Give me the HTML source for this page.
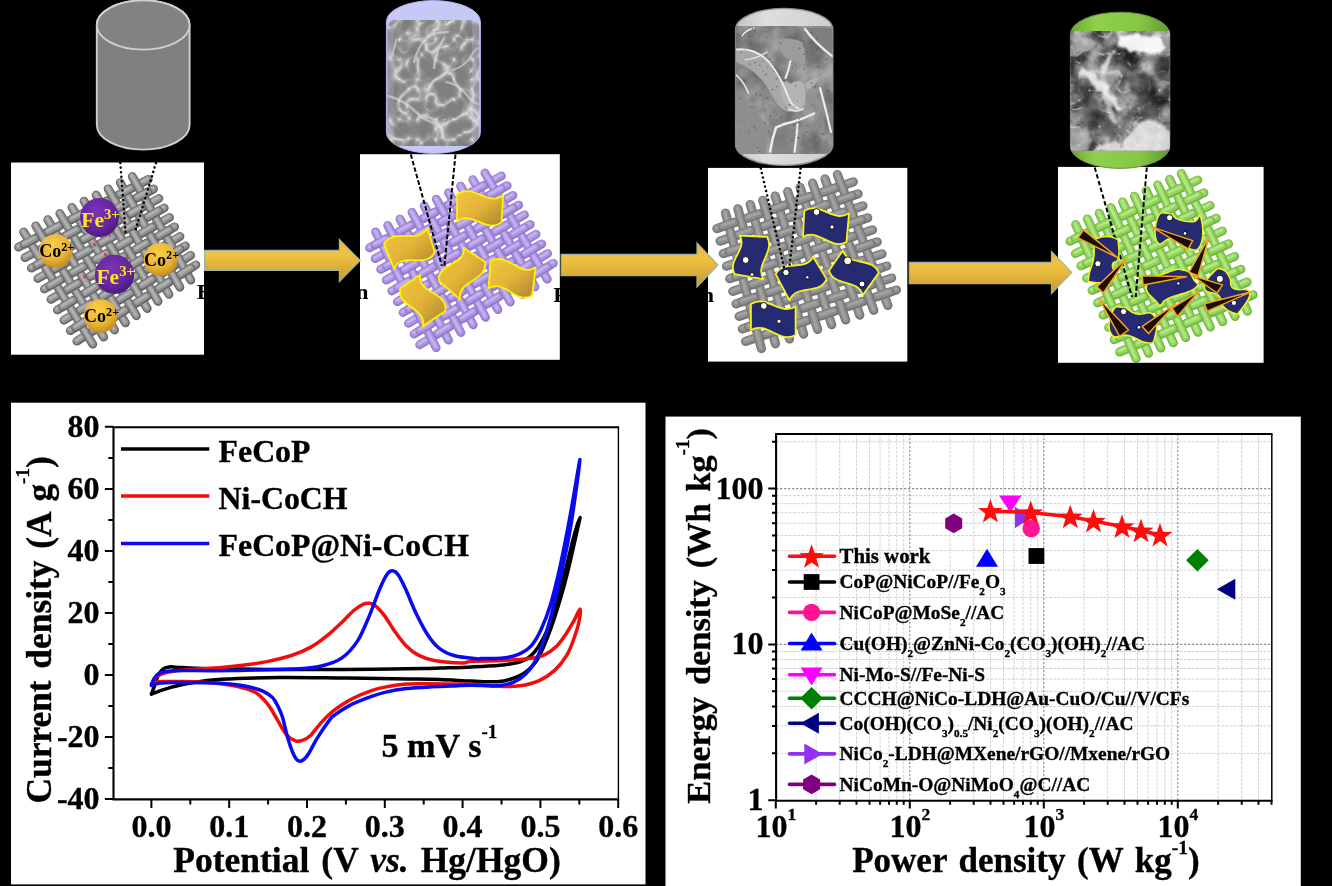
<!DOCTYPE html>
<html lang="en"><head><meta charset="utf-8"><title>FeCoP@Ni-CoCH figure</title>
<style>
html,body{margin:0;padding:0;background:#000;}
body{width:1332px;height:886px;overflow:hidden;}
svg{display:block;}
text{font-family:'Liberation Serif', 'Times New Roman', Times, serif;font-weight:bold;}
#cv text,#ragone text{stroke:#000;stroke-width:0.35px;}
</style></head><body>
<svg width="1332" height="886" viewBox="0 0 1332 886">
<defs>
<linearGradient id="gArrow" x1="0" y1="0" x2="0" y2="1">
 <stop offset="0" stop-color="#e9b93c"/><stop offset="0.35" stop-color="#f0c242"/>
 <stop offset="1" stop-color="#c79a2e"/>
</linearGradient>
<linearGradient id="gFlag" x1="0" y1="0" x2="1" y2="1">
 <stop offset="0" stop-color="#f3c63f"/><stop offset="0.5" stop-color="#e2b338"/>
 <stop offset="1" stop-color="#a8832c"/>
</linearGradient>
<radialGradient id="gFe" cx="0.42" cy="0.35" r="0.75">
 <stop offset="0" stop-color="#7a35b8"/><stop offset="0.6" stop-color="#63259f"/>
 <stop offset="1" stop-color="#3f1670"/>
</radialGradient>
<radialGradient id="gCo" cx="0.42" cy="0.32" r="0.78">
 <stop offset="0" stop-color="#f7cf4a"/><stop offset="0.55" stop-color="#eab534"/>
 <stop offset="1" stop-color="#b07f1c"/>
</radialGradient>
<linearGradient id="gGreenCap" x1="0" y1="0" x2="1" y2="0">
 <stop offset="0" stop-color="#6aa535"/><stop offset="0.25" stop-color="#8fd04c"/>
 <stop offset="0.7" stop-color="#86c645"/><stop offset="1" stop-color="#5f9a2e"/>
</linearGradient>
<linearGradient id="gGrayCap" x1="0" y1="0" x2="1" y2="0">
 <stop offset="0" stop-color="#c4c4c4"/><stop offset="0.3" stop-color="#dedede"/>
 <stop offset="1" stop-color="#cfcfcf"/>
</linearGradient>
<filter id="blur07" x="-5%" y="-5%" width="110%" height="110%"><feGaussianBlur stdDeviation="0.7"/></filter>
<filter id="blur04" x="-5%" y="-5%" width="110%" height="110%"><feGaussianBlur stdDeviation="0.45"/></filter>


<filter id="sem2" x="0" y="0" width="100%" height="100%" color-interpolation-filters="sRGB">
 <feTurbulence type="turbulence" baseFrequency="0.055 0.05" numOctaves="2" seed="21" result="t"/>
 <feColorMatrix in="t" type="matrix" values="-2.2 0 0 0 1  -2.2 0 0 0 1  -2.2 0 0 0 1  0 0 0 0 1" result="g0"/>
 <feGaussianBlur in="g0" stdDeviation="0.4" result="g"/>
 <feComponentTransfer in="g"><feFuncR type="table" tableValues="0.50 0.53 0.58 0.70 0.88"/><feFuncG type="table" tableValues="0.50 0.53 0.58 0.70 0.88"/><feFuncB type="table" tableValues="0.50 0.53 0.58 0.70 0.88"/></feComponentTransfer>
</filter>
<filter id="sem3" x="0" y="0" width="100%" height="100%" color-interpolation-filters="sRGB">
 <feTurbulence type="fractalNoise" baseFrequency="0.04 0.035" numOctaves="4" seed="11" result="t"/>
 <feColorMatrix in="t" type="matrix" values="0.9 0 0 0 0.1  0.9 0 0 0 0.1  0.9 0 0 0 0.1  0 0 0 0 1"/>
</filter>
<filter id="sem4" x="0" y="0" width="100%" height="100%" color-interpolation-filters="sRGB">
 <feTurbulence type="fractalNoise" baseFrequency="0.05 0.045" numOctaves="5" seed="31" result="n"/>
 <feColorMatrix in="n" type="matrix" values="1.5 0 0 0 -0.28  1.5 0 0 0 -0.28  1.5 0 0 0 -0.28  0 0 0 0 1" result="c"/>
 <feTurbulence type="turbulence" baseFrequency="0.05 0.055" numOctaves="4" seed="23" result="t"/>
 <feColorMatrix in="t" type="matrix" values="0 0 0 0 0.95  0 0 0 0 0.95  0 0 0 0 0.95  -4.2 0 0 0 0.85" result="w"/>
 <feComposite in="w" in2="c" operator="over"/>
</filter>
<filter id="rag" x="-20%" y="-20%" width="140%" height="140%">
 <feTurbulence type="fractalNoise" baseFrequency="0.09" numOctaves="3" seed="5" result="n"/>
 <feDisplacementMap in="SourceGraphic" in2="n" scale="10" xChannelSelector="R" yChannelSelector="G" result="d"/>
 <feGaussianBlur in="d" stdDeviation="1.1"/>
</filter>
<filter id="blur2" x="-20%" y="-20%" width="140%" height="140%"><feGaussianBlur stdDeviation="2.2"/></filter>
<filter id="blur4" x="-30%" y="-30%" width="160%" height="160%"><feGaussianBlur stdDeviation="4"/></filter>

<clipPath id="cb2"><path d="M386.4 21.6A47 21 0 0 1 480.4 21.6V132.4A47 21 0 0 1 386.4 132.4Z"/></clipPath>
<clipPath id="cs2"><rect x="387.4" y="20" width="91.8" height="126" rx="8" ry="8"/></clipPath>
<clipPath id="cb3"><path d="M735.6 29.4A48.6 21 0 0 1 832.8 29.4V144.4A48.6 21 0 0 1 735.6 144.4Z"/></clipPath>
<clipPath id="cs3"><rect x="734" y="26" width="101" height="128"/></clipPath>
<clipPath id="cb4"><path d="M1070.4 34.2A49.7 22 0 0 1 1169.8 34.2V146.4A49.7 22 0 0 1 1070.4 146.4Z"/></clipPath>
<clipPath id="cs4"><rect x="1068" y="31" width="104" height="119.8"/></clipPath></defs>
<rect x="0" y="0" width="1332" height="886" fill="#000"/>
<rect x="11" y="162.5" width="193" height="192.2" fill="#fff"/>
<rect x="360" y="154.2" width="199.8" height="205.6" fill="#fff"/>
<rect x="708" y="167.9" width="199.3" height="193.7" fill="#fff"/>
<rect x="1058" y="166.9" width="205.6" height="195.9" fill="#fff"/>
<rect x="11" y="402.7" width="634.5" height="481.7" fill="#fff"/>
<rect x="665.5" y="416.6" width="635.3" height="469.4" fill="#fff"/>
<path d="M96.8 25 L96.8 125 A46.4 24.6 0 0 0 189.6 125 L189.6 25 A46.4 24.6 0 0 0 96.8 25Z" fill="#808080" stroke="#d0d0d0" stroke-width="1.9"/>
<ellipse cx="143.2" cy="25" rx="46.4" ry="24.6" fill="#828282" stroke="#d0d0d0" stroke-width="1.9"/>
<path d="M386.4 21.6A47 21 0 0 1 480.4 21.6V132.4A47 21 0 0 1 386.4 132.4Z" fill="#c6c9f6" stroke="#b2b5ee" stroke-width="1"/>
<g clip-path="url(#cb2)"><g clip-path="url(#cs2)"><rect x="385" y="18" width="98" height="130" filter="url(#sem2)"/>
<g fill="none" stroke="#dedede" stroke-linecap="round" filter="url(#blur07)" opacity="0.6">
<path d="M388 96 q16 4 28 16 q10 10 22 12 q6 6 4 14" stroke-width="2.6"/>
<path d="M414 62 q4 -16 14 -26 q10 -4 20 -4" stroke-width="2.4"/>
<path d="M434 68 q2 -18 10 -30" stroke-width="2.6"/>
<path d="M452 70 q10 -2 18 -12 q4 -8 8 -10" stroke-width="2.0"/>
<path d="M420 116 q12 0 18 8" stroke-width="3.0"/>
<path d="M446 82 q12 2 20 12 q6 8 12 10" stroke-width="2.2"/>
<path d="M396 40 q-2 12 -6 20" stroke-width="2.0"/>
<path d="M470 110 q4 10 8 14" stroke-width="3.0"/>
</g>
<rect x="387" y="20" width="7" height="126" fill="#c6c9f6" opacity="0.22"/><rect x="472" y="20" width="8" height="126" fill="#c6c9f6" opacity="0.22"/>
</g></g>
<path d="M735.6 29.4A48.6 21 0 0 1 832.8 29.4V144.4A48.6 21 0 0 1 735.6 144.4Z" fill="url(#gGrayCap)" stroke="#909090" stroke-width="1.4"/>
<g clip-path="url(#cb3)"><g clip-path="url(#cs3)"><rect x="734" y="24" width="100" height="132" fill="#858585"/>
<rect x="734" y="24" width="100" height="132" filter="url(#sem3)" opacity="0.5"/>
<g filter="url(#blur07)">
<path d="M736 50 q18 -1 32 12 q14 18 22 40 q8 8 -1 10 q-10 -2 -19 -20 q-12 -22 -34 -30z" fill="#a8a8a8"/>
<path d="M780 84 q6 -6 10 0 q10 -6 14 0 q4 14 -2 26 q-8 4 -14 -2 q-8 -10 -8 -24z" fill="#b4b4b4"/>
<path d="M805 84 q8 -8 14 -6 q-4 8 -12 12z" fill="#b0b0b0"/>
<path d="M776 40 q14 -4 26 2 q6 14 2 24 q-10 -6 -18 -8 q-8 -8 -10 -18z" fill="#9c9c9c"/>
<path d="M806 28 q10 14 26 27 v-27z" fill="#7e7e7e"/>
<path d="M736 96 q20 10 30 30 v28 h-30z" fill="#8e8e8e"/>
<path d="M776 130 q10 -4 20 0 v24 h-24z" fill="#7c7c7c" opacity="0.7"/>
</g>
<g fill="none" stroke="#ececec" stroke-linecap="round" filter="url(#blur07)">
<path d="M736.5 49.5 q18 -2 32 12 q12 14 20 36 q3 8 10 11" stroke-width="1.9"/>
<path d="M790.5 61 q-2 10 -5 17" stroke-width="2.0"/>
<path d="M805 29 q10 14 27 27" stroke-width="2.2"/>
<path d="M814 113.5 q-10 5 -20 8 q-10 2 -18 6 q-4 12 -6 24" stroke-width="2.4"/>
<path d="M797.5 124 q-1 14 -3 28" stroke-width="2.2"/>
<path d="M820 88 q5 18 11 44" stroke-width="2.2"/>
<path d="M736.5 75 q8 8 12 18" stroke-width="1.6"/>
<path d="M803 109 q-8 4 -14 0" stroke-width="1.6"/>
<path d="M742 36 q4 -6 12 -8" stroke-width="1.3"/>
<path d="M745 60 q14 -2 22 -8" stroke-width="1.2"/>
</g>
<g fill="#474747" opacity="0.75">
<circle cx="759.9" cy="95.5" r="0.5"/>
<circle cx="793.6" cy="105.6" r="0.4"/>
<circle cx="739.2" cy="131.8" r="0.5"/>
<circle cx="759.6" cy="151.5" r="0.6"/>
<circle cx="815" cy="87.1" r="0.7"/>
<circle cx="751.9" cy="106.7" r="0.8"/>
<circle cx="786.1" cy="119.9" r="0.7"/>
<circle cx="743.9" cy="122" r="0.6"/>
<circle cx="765.7" cy="31.8" r="0.8"/>
<circle cx="781.5" cy="117.1" r="0.8"/>
<circle cx="803.7" cy="142.2" r="0.5"/>
<circle cx="811.7" cy="83.1" r="0.8"/>
<circle cx="818.9" cy="40.1" r="0.4"/>
<circle cx="758" cy="147.7" r="0.6"/>
<circle cx="795.7" cy="65.3" r="0.6"/>
<circle cx="773.5" cy="71.5" r="0.6"/>
<circle cx="791.8" cy="140.1" r="0.7"/>
<circle cx="823.5" cy="134.2" r="0.8"/>
<circle cx="799.8" cy="48.2" r="0.8"/>
<circle cx="826.7" cy="140.2" r="0.6"/>
<circle cx="803.7" cy="54.2" r="0.8"/>
<circle cx="790.8" cy="63.3" r="0.4"/>
<circle cx="816.6" cy="150.7" r="0.4"/>
<circle cx="811.7" cy="78.9" r="0.4"/>
<circle cx="765" cy="123.3" r="0.8"/>
<circle cx="742.1" cy="104.2" r="0.4"/>
<circle cx="804.1" cy="69" r="0.8"/>
<circle cx="828.2" cy="90.7" r="0.8"/>
<circle cx="766.5" cy="37.5" r="0.6"/>
<circle cx="740.9" cy="52.5" r="0.6"/>
<circle cx="794.2" cy="47.4" r="0.4"/>
<circle cx="817.8" cy="66.9" r="0.8"/>
<circle cx="820.5" cy="74.8" r="0.6"/>
<circle cx="785.8" cy="107.8" r="0.6"/>
<circle cx="789.5" cy="104.9" r="0.8"/>
<circle cx="784.6" cy="81.5" r="0.7"/>
<circle cx="759.9" cy="65.3" r="0.8"/>
<circle cx="785.9" cy="96" r="0.4"/>
<circle cx="776.2" cy="99.9" r="0.4"/>
<circle cx="794.7" cy="106.4" r="0.4"/>
<circle cx="795.7" cy="85.8" r="0.7"/>
<circle cx="770.4" cy="115.7" r="0.7"/>
<circle cx="740" cy="35.5" r="0.7"/>
<circle cx="826.6" cy="59.1" r="0.6"/>
<circle cx="792.5" cy="67.7" r="0.5"/>
<circle cx="766.8" cy="73.8" r="0.6"/>
<circle cx="765.6" cy="74.8" r="0.7"/>
<circle cx="740.5" cy="98.6" r="0.7"/>
<circle cx="766.5" cy="55.6" r="0.8"/>
<circle cx="760" cy="51.2" r="0.6"/>
<circle cx="802.2" cy="40.6" r="0.5"/>
<circle cx="768.7" cy="131.4" r="0.6"/>
<circle cx="816.7" cy="49" r="0.5"/>
<circle cx="797.8" cy="137.7" r="0.6"/>
<circle cx="758.7" cy="43" r="0.6"/>
<circle cx="755.6" cy="128" r="0.8"/>
<circle cx="754.9" cy="62.5" r="0.8"/>
<circle cx="797.1" cy="128" r="0.5"/>
<circle cx="749.9" cy="64.2" r="0.7"/>
<circle cx="762.9" cy="70.9" r="0.6"/>
<circle cx="776.6" cy="78.8" r="0.8"/>
<circle cx="752.4" cy="28.6" r="0.8"/>
<circle cx="819" cy="150.4" r="0.6"/>
<circle cx="825.4" cy="143" r="0.5"/>
<circle cx="806.6" cy="131.8" r="0.7"/>
<circle cx="785.7" cy="63.8" r="0.5"/>
<circle cx="758.9" cy="36.4" r="0.6"/>
<circle cx="764.4" cy="128.5" r="0.4"/>
<circle cx="821.1" cy="114" r="0.8"/>
<circle cx="820.5" cy="139.6" r="0.6"/>
<circle cx="739.2" cy="120.4" r="0.4"/>
<circle cx="765.6" cy="110.2" r="0.6"/>
<circle cx="776.1" cy="144.4" r="0.7"/>
<circle cx="769.4" cy="59.3" r="0.8"/>
<circle cx="781.9" cy="125" r="0.5"/>
<circle cx="756.2" cy="94.3" r="0.8"/>
<circle cx="753.8" cy="126.2" r="0.8"/>
<circle cx="812.2" cy="130.1" r="0.4"/>
<circle cx="795.8" cy="135" r="0.4"/>
<circle cx="763" cy="61.3" r="0.6"/>
<circle cx="776.9" cy="86.6" r="0.7"/>
<circle cx="738.2" cy="34.8" r="0.4"/>
<circle cx="749.5" cy="36.5" r="0.8"/>
<circle cx="816.6" cy="38.7" r="0.6"/>
<circle cx="767.1" cy="67" r="0.5"/>
<circle cx="797.5" cy="100.7" r="0.5"/>
<circle cx="755.6" cy="68.8" r="0.4"/>
<circle cx="789.1" cy="116.8" r="0.5"/>
<circle cx="745.4" cy="50.1" r="0.5"/>
<circle cx="793.6" cy="125" r="0.5"/>
<circle cx="811.7" cy="105.2" r="0.6"/>
<circle cx="772.3" cy="89.5" r="0.7"/>
<circle cx="776.7" cy="114.1" r="0.6"/>
<circle cx="760.5" cy="94.4" r="0.7"/>
<circle cx="744.6" cy="80.7" r="0.6"/>
<circle cx="818.9" cy="144.1" r="0.5"/>
<circle cx="820.6" cy="126.1" r="0.5"/>
<circle cx="780.7" cy="43.3" r="0.8"/>
<circle cx="798.9" cy="138" r="0.7"/>
<circle cx="799.4" cy="119" r="0.6"/>
<circle cx="747.5" cy="100.9" r="0.4"/>
<circle cx="751.2" cy="124" r="0.4"/>
<circle cx="746.4" cy="40.3" r="0.8"/>
<circle cx="754.5" cy="30.9" r="0.8"/>
<circle cx="749.2" cy="132.6" r="0.7"/>
<circle cx="814.9" cy="146.1" r="0.6"/>
<circle cx="811.5" cy="32.5" r="0.7"/>
<circle cx="785" cy="116.7" r="0.4"/>
<circle cx="806.9" cy="143.9" r="0.4"/>
<circle cx="767.8" cy="97.9" r="0.8"/>
</g></g></g>
<path d="M1070.4 34.2A49.7 22 0 0 1 1169.8 34.2V146.4A49.7 22 0 0 1 1070.4 146.4Z" fill="url(#gGreenCap)" stroke="#6c8c50" stroke-width="1"/>
<g clip-path="url(#cb4)"><g clip-path="url(#cs4)"><rect x="1068" y="29" width="104" height="124" fill="#7a7a7a"/>
<rect x="1068" y="29" width="104" height="124" filter="url(#sem4)" opacity="0.75"/>
<g fill="#242424" filter="url(#blur2)" opacity="0.5"><ellipse cx="1162" cy="68" rx="8" ry="12"/><ellipse cx="1142" cy="84" rx="14" ry="12"/><ellipse cx="1152" cy="108" rx="12" ry="12"/><ellipse cx="1092" cy="112" rx="10" ry="16"/><ellipse cx="1078" cy="88" rx="6" ry="9"/><ellipse cx="1110" cy="128" rx="8" ry="10"/></g>
<g filter="url(#rag)">
<path d="M1118 36 q22 -4 42 2 q6 10 -2 15 q-20 0 -40 -8z" fill="#fff" opacity="0.92"/>
<path d="M1079 66 q12 2 22 14 q14 16 23 30 q-6 3 -12 -6 q-14 -18 -33 -32z" fill="#f4f4f4" opacity="0.85"/>
<path d="M1114 48 q-2 14 -12 28 q-4 -2 -2 -8 q6 -10 14 -20z" fill="#eee" opacity="0.8"/>
<path d="M1118 153 q8 -20 24 -32 q10 -6 16 2 q8 6 14 8 v22z" fill="#f4f4f4" opacity="0.8"/>
<path d="M1092 153 q10 -12 28 -10 v10z" fill="#f0f0f0" opacity="0.8"/>
<path d="M1070 124 q10 6 18 4 q4 10 -2 26 h-16z" fill="#d2d2d2" opacity="0.55"/>
<path d="M1070 36 q14 0 30 6 q-10 8 -30 14z" fill="#d2d2d2" opacity="0.5"/>
<path d="M1106 96 q8 10 10 26 q-4 2 -6 -4 q-4 -12 -8 -20z" fill="#e6e6e6" opacity="0.7"/>
</g>
</g></g>
<text transform="translate(196.8 299) scale(1.11 1)" font-size="20.7" fill="#000">Electrodeposition</text>
<text transform="translate(553.3 301.7) scale(1.11 1)" font-size="20.7" fill="#000">Phosphorization</text>
<g stroke-linecap="round" fill="none" filter="url(#blur04)"><path d="M18.5 247.2L148.3 179.5" stroke="#686868" stroke-width="8.8"/><path d="M18.2 246.7L148 179" stroke="#939393" stroke-width="6.3"/><path d="M17.9 246.2L147.7 178.5" stroke="#b0b0b0" stroke-width="2.8"/><path d="M25 257.7L153.6 189" stroke="#686868" stroke-width="8.8"/><path d="M24.7 257.2L153.3 188.5" stroke="#939393" stroke-width="6.3"/><path d="M24.4 256.7L153 188" stroke="#b0b0b0" stroke-width="2.8"/><path d="M31.4 268.1L158.9 198.5" stroke="#686868" stroke-width="8.8"/><path d="M31.1 267.6L158.6 198" stroke="#939393" stroke-width="6.3"/><path d="M30.8 267.1L158.3 197.5" stroke="#b0b0b0" stroke-width="2.8"/><path d="M37.9 278.5L164.2 208" stroke="#686868" stroke-width="8.8"/><path d="M37.6 278L163.9 207.5" stroke="#939393" stroke-width="6.3"/><path d="M37.3 277.5L163.6 207" stroke="#b0b0b0" stroke-width="2.8"/><path d="M44.4 289L169.5 217.5" stroke="#686868" stroke-width="8.8"/><path d="M44.1 288.5L169.2 217" stroke="#939393" stroke-width="6.3"/><path d="M43.8 288L168.9 216.5" stroke="#b0b0b0" stroke-width="2.8"/><path d="M50.9 299.4L174.7 226.9" stroke="#686868" stroke-width="8.8"/><path d="M50.6 298.9L174.4 226.4" stroke="#939393" stroke-width="6.3"/><path d="M50.3 298.4L174.1 225.9" stroke="#b0b0b0" stroke-width="2.8"/><path d="M57.4 309.9L180 236.4" stroke="#686868" stroke-width="8.8"/><path d="M57.1 309.4L179.7 235.9" stroke="#939393" stroke-width="6.3"/><path d="M56.8 308.9L179.4 235.4" stroke="#b0b0b0" stroke-width="2.8"/><path d="M63.9 320.3L185.3 245.9" stroke="#686868" stroke-width="8.8"/><path d="M63.6 319.8L185 245.4" stroke="#939393" stroke-width="6.3"/><path d="M63.3 319.3L184.7 244.9" stroke="#b0b0b0" stroke-width="2.8"/><path d="M70.3 330.7L190.6 255.4" stroke="#686868" stroke-width="8.8"/><path d="M70 330.2L190.3 254.9" stroke="#939393" stroke-width="6.3"/><path d="M69.7 329.7L190 254.4" stroke="#b0b0b0" stroke-width="2.8"/><path d="M76.8 341.2L195.9 264.9" stroke="#686868" stroke-width="8.8"/><path d="M76.5 340.7L195.6 264.4" stroke="#939393" stroke-width="6.3"/><path d="M76.2 340.2L195.3 263.9" stroke="#b0b0b0" stroke-width="2.8"/><path d="M23.6 231.9L92.8 344.2" stroke="#686868" stroke-width="8.8"/><path d="M23.3 231.4L92.5 343.7" stroke="#939393" stroke-width="6.3"/><path d="M23 230.9L92.2 343.2" stroke="#b0b0b0" stroke-width="2.8"/><path d="M35.7 225.8L103.7 337.1" stroke="#686868" stroke-width="8.8"/><path d="M35.4 225.3L103.4 336.6" stroke="#939393" stroke-width="6.3"/><path d="M35.1 224.8L103.1 336.1" stroke="#b0b0b0" stroke-width="2.8"/><path d="M47.8 219.6L114.6 330" stroke="#686868" stroke-width="8.8"/><path d="M47.5 219.1L114.3 329.5" stroke="#939393" stroke-width="6.3"/><path d="M47.2 218.6L114 329" stroke="#b0b0b0" stroke-width="2.8"/><path d="M59.8 213.4L125.5 322.9" stroke="#686868" stroke-width="8.8"/><path d="M59.5 212.9L125.2 322.4" stroke="#939393" stroke-width="6.3"/><path d="M59.2 212.4L124.9 321.9" stroke="#b0b0b0" stroke-width="2.8"/><path d="M71.9 207.3L136.4 315.8" stroke="#686868" stroke-width="8.8"/><path d="M71.6 206.8L136.1 315.3" stroke="#939393" stroke-width="6.3"/><path d="M71.3 206.3L135.8 314.8" stroke="#b0b0b0" stroke-width="2.8"/><path d="M84 201.1L147.2 308.6" stroke="#686868" stroke-width="8.8"/><path d="M83.7 200.6L146.9 308.1" stroke="#939393" stroke-width="6.3"/><path d="M83.4 200.1L146.6 307.6" stroke="#b0b0b0" stroke-width="2.8"/><path d="M96.1 195L158.1 301.5" stroke="#686868" stroke-width="8.8"/><path d="M95.8 194.5L157.8 301" stroke="#939393" stroke-width="6.3"/><path d="M95.5 194L157.5 300.5" stroke="#b0b0b0" stroke-width="2.8"/><path d="M108.1 188.8L169 294.4" stroke="#686868" stroke-width="8.8"/><path d="M107.8 188.3L168.7 293.9" stroke="#939393" stroke-width="6.3"/><path d="M107.5 187.8L168.4 293.4" stroke="#b0b0b0" stroke-width="2.8"/><path d="M120.2 182.6L179.9 287.3" stroke="#686868" stroke-width="8.8"/><path d="M119.9 182.1L179.6 286.8" stroke="#939393" stroke-width="6.3"/><path d="M119.6 181.6L179.3 286.3" stroke="#b0b0b0" stroke-width="2.8"/><path d="M132.3 176.5L190.8 280.2" stroke="#686868" stroke-width="8.8"/><path d="M132 176L190.5 279.7" stroke="#939393" stroke-width="6.3"/><path d="M131.7 175.5L190.2 279.2" stroke="#b0b0b0" stroke-width="2.8"/><path d="M24.1 244.3L35 238.6" stroke="#686868" stroke-width="8.8"/><path d="M23.8 243.8L34.7 238.1" stroke="#939393" stroke-width="6.3"/><path d="M23.5 243.3L34.4 237.6" stroke="#b0b0b0" stroke-width="2.8"/><path d="M48 231.8L58.9 226.1" stroke="#686868" stroke-width="8.8"/><path d="M47.7 231.3L58.6 225.6" stroke="#939393" stroke-width="6.3"/><path d="M47.4 230.8L58.3 225.1" stroke="#b0b0b0" stroke-width="2.8"/><path d="M71.9 219.3L82.8 213.7" stroke="#686868" stroke-width="8.8"/><path d="M71.6 218.8L82.5 213.2" stroke="#939393" stroke-width="6.3"/><path d="M71.3 218.3L82.2 212.7" stroke="#b0b0b0" stroke-width="2.8"/><path d="M95.9 206.9L106.8 201.2" stroke="#686868" stroke-width="8.8"/><path d="M95.6 206.4L106.5 200.7" stroke="#939393" stroke-width="6.3"/><path d="M95.3 205.9L106.2 200.2" stroke="#b0b0b0" stroke-width="2.8"/><path d="M119.8 194.4L130.7 188.7" stroke="#686868" stroke-width="8.8"/><path d="M119.5 193.9L130.4 188.2" stroke="#939393" stroke-width="6.3"/><path d="M119.2 193.4L130.1 187.7" stroke="#b0b0b0" stroke-width="2.8"/><path d="M42.4 248.4L53.2 242.6" stroke="#686868" stroke-width="8.8"/><path d="M42.1 247.9L52.9 242.1" stroke="#939393" stroke-width="6.3"/><path d="M41.8 247.4L52.6 241.6" stroke="#b0b0b0" stroke-width="2.8"/><path d="M66.1 235.7L76.9 230" stroke="#686868" stroke-width="8.8"/><path d="M65.8 235.2L76.6 229.5" stroke="#939393" stroke-width="6.3"/><path d="M65.5 234.7L76.3 229" stroke="#b0b0b0" stroke-width="2.8"/><path d="M89.8 223.1L100.6 217.3" stroke="#686868" stroke-width="8.8"/><path d="M89.5 222.6L100.3 216.8" stroke="#939393" stroke-width="6.3"/><path d="M89.2 222.1L100 216.3" stroke="#b0b0b0" stroke-width="2.8"/><path d="M113.5 210.4L124.3 204.6" stroke="#686868" stroke-width="8.8"/><path d="M113.2 209.9L124 204.1" stroke="#939393" stroke-width="6.3"/><path d="M112.9 209.4L123.7 203.6" stroke="#b0b0b0" stroke-width="2.8"/><path d="M137.2 197.7L148 192" stroke="#686868" stroke-width="8.8"/><path d="M136.9 197.2L147.7 191.5" stroke="#939393" stroke-width="6.3"/><path d="M136.6 196.7L147.4 191" stroke="#b0b0b0" stroke-width="2.8"/><path d="M36.9 265.1L47.6 259.3" stroke="#686868" stroke-width="8.8"/><path d="M36.6 264.6L47.3 258.8" stroke="#939393" stroke-width="6.3"/><path d="M36.3 264.1L47 258.3" stroke="#b0b0b0" stroke-width="2.8"/><path d="M60.4 252.3L71.1 246.4" stroke="#686868" stroke-width="8.8"/><path d="M60.1 251.8L70.8 245.9" stroke="#939393" stroke-width="6.3"/><path d="M59.8 251.3L70.5 245.4" stroke="#b0b0b0" stroke-width="2.8"/><path d="M83.9 239.4L94.6 233.6" stroke="#686868" stroke-width="8.8"/><path d="M83.6 238.9L94.3 233.1" stroke="#939393" stroke-width="6.3"/><path d="M83.3 238.4L94 232.6" stroke="#b0b0b0" stroke-width="2.8"/><path d="M107.4 226.6L118.1 220.7" stroke="#686868" stroke-width="8.8"/><path d="M107.1 226.1L117.8 220.2" stroke="#939393" stroke-width="6.3"/><path d="M106.8 225.6L117.5 219.7" stroke="#b0b0b0" stroke-width="2.8"/><path d="M130.9 213.8L141.6 207.9" stroke="#686868" stroke-width="8.8"/><path d="M130.6 213.3L141.3 207.4" stroke="#939393" stroke-width="6.3"/><path d="M130.3 212.8L141 206.9" stroke="#b0b0b0" stroke-width="2.8"/><path d="M55 269L65.6 263.1" stroke="#686868" stroke-width="8.8"/><path d="M54.7 268.5L65.3 262.6" stroke="#939393" stroke-width="6.3"/><path d="M54.4 268L65 262.1" stroke="#b0b0b0" stroke-width="2.8"/><path d="M78.3 256L88.9 250.1" stroke="#686868" stroke-width="8.8"/><path d="M78 255.5L88.6 249.6" stroke="#939393" stroke-width="6.3"/><path d="M77.7 255L88.3 249.1" stroke="#b0b0b0" stroke-width="2.8"/><path d="M101.6 243L112.2 237" stroke="#686868" stroke-width="8.8"/><path d="M101.3 242.5L111.9 236.5" stroke="#939393" stroke-width="6.3"/><path d="M101 242L111.6 236" stroke="#b0b0b0" stroke-width="2.8"/><path d="M124.8 230L135.4 224" stroke="#686868" stroke-width="8.8"/><path d="M124.5 229.5L135.1 223.5" stroke="#939393" stroke-width="6.3"/><path d="M124.2 229L134.8 223" stroke="#b0b0b0" stroke-width="2.8"/><path d="M148.1 216.9L158.7 211" stroke="#686868" stroke-width="8.8"/><path d="M147.8 216.4L158.4 210.5" stroke="#939393" stroke-width="6.3"/><path d="M147.5 215.9L158.1 210" stroke="#b0b0b0" stroke-width="2.8"/><path d="M49.8 285.9L60.3 279.9" stroke="#686868" stroke-width="8.8"/><path d="M49.5 285.4L60 279.4" stroke="#939393" stroke-width="6.3"/><path d="M49.2 284.9L59.7 278.9" stroke="#b0b0b0" stroke-width="2.8"/><path d="M72.8 272.7L83.4 266.7" stroke="#686868" stroke-width="8.8"/><path d="M72.5 272.2L83.1 266.2" stroke="#939393" stroke-width="6.3"/><path d="M72.2 271.7L82.8 265.7" stroke="#b0b0b0" stroke-width="2.8"/><path d="M95.9 259.5L106.4 253.5" stroke="#686868" stroke-width="8.8"/><path d="M95.6 259L106.1 253" stroke="#939393" stroke-width="6.3"/><path d="M95.3 258.5L105.8 252.5" stroke="#b0b0b0" stroke-width="2.8"/><path d="M119 246.3L129.5 240.3" stroke="#686868" stroke-width="8.8"/><path d="M118.7 245.8L129.2 239.8" stroke="#939393" stroke-width="6.3"/><path d="M118.4 245.3L128.9 239.3" stroke="#b0b0b0" stroke-width="2.8"/><path d="M142 233.1L152.5 227.1" stroke="#686868" stroke-width="8.8"/><path d="M141.7 232.6L152.2 226.6" stroke="#939393" stroke-width="6.3"/><path d="M141.4 232.1L151.9 226.1" stroke="#b0b0b0" stroke-width="2.8"/><path d="M67.6 289.6L78 283.5" stroke="#686868" stroke-width="8.8"/><path d="M67.3 289.1L77.7 283" stroke="#939393" stroke-width="6.3"/><path d="M67 288.6L77.4 282.5" stroke="#b0b0b0" stroke-width="2.8"/><path d="M90.5 276.3L100.9 270.2" stroke="#686868" stroke-width="8.8"/><path d="M90.2 275.8L100.6 269.7" stroke="#939393" stroke-width="6.3"/><path d="M89.9 275.3L100.3 269.2" stroke="#b0b0b0" stroke-width="2.8"/><path d="M113.3 262.9L123.7 256.8" stroke="#686868" stroke-width="8.8"/><path d="M113 262.4L123.4 256.3" stroke="#939393" stroke-width="6.3"/><path d="M112.7 261.9L123.1 255.8" stroke="#b0b0b0" stroke-width="2.8"/><path d="M136.2 249.5L146.6 243.4" stroke="#686868" stroke-width="8.8"/><path d="M135.9 249L146.3 242.9" stroke="#939393" stroke-width="6.3"/><path d="M135.6 248.5L146 242.4" stroke="#b0b0b0" stroke-width="2.8"/><path d="M159 236.1L169.4 230.1" stroke="#686868" stroke-width="8.8"/><path d="M158.7 235.6L169.1 229.6" stroke="#939393" stroke-width="6.3"/><path d="M158.4 235.1L168.8 229.1" stroke="#b0b0b0" stroke-width="2.8"/><path d="M62.6 306.7L73 300.5" stroke="#686868" stroke-width="8.8"/><path d="M62.3 306.2L72.7 300" stroke="#939393" stroke-width="6.3"/><path d="M62 305.7L72.4 299.5" stroke="#b0b0b0" stroke-width="2.8"/><path d="M85.3 293.2L95.6 287" stroke="#686868" stroke-width="8.8"/><path d="M85 292.7L95.3 286.5" stroke="#939393" stroke-width="6.3"/><path d="M84.7 292.2L95 286" stroke="#b0b0b0" stroke-width="2.8"/><path d="M107.9 279.6L118.2 273.4" stroke="#686868" stroke-width="8.8"/><path d="M107.6 279.1L117.9 272.9" stroke="#939393" stroke-width="6.3"/><path d="M107.3 278.6L117.6 272.4" stroke="#b0b0b0" stroke-width="2.8"/><path d="M130.5 266.1L140.8 259.9" stroke="#686868" stroke-width="8.8"/><path d="M130.2 265.6L140.5 259.4" stroke="#939393" stroke-width="6.3"/><path d="M129.9 265.1L140.2 258.9" stroke="#b0b0b0" stroke-width="2.8"/><path d="M153.1 252.5L163.5 246.4" stroke="#686868" stroke-width="8.8"/><path d="M152.8 252L163.2 245.9" stroke="#939393" stroke-width="6.3"/><path d="M152.5 251.5L162.9 245.4" stroke="#b0b0b0" stroke-width="2.8"/><path d="M80.3 310.2L90.5 304" stroke="#686868" stroke-width="8.8"/><path d="M80 309.7L90.2 303.5" stroke="#939393" stroke-width="6.3"/><path d="M79.7 309.2L89.9 303" stroke="#b0b0b0" stroke-width="2.8"/><path d="M102.7 296.5L112.9 290.3" stroke="#686868" stroke-width="8.8"/><path d="M102.4 296L112.6 289.8" stroke="#939393" stroke-width="6.3"/><path d="M102.1 295.5L112.3 289.3" stroke="#b0b0b0" stroke-width="2.8"/><path d="M125.1 282.8L135.3 276.5" stroke="#686868" stroke-width="8.8"/><path d="M124.8 282.3L135 276" stroke="#939393" stroke-width="6.3"/><path d="M124.5 281.8L134.7 275.5" stroke="#b0b0b0" stroke-width="2.8"/><path d="M147.5 269.1L157.7 262.8" stroke="#686868" stroke-width="8.8"/><path d="M147.2 268.6L157.4 262.3" stroke="#939393" stroke-width="6.3"/><path d="M146.9 268.1L157.1 261.8" stroke="#b0b0b0" stroke-width="2.8"/><path d="M169.9 255.3L180.1 249.1" stroke="#686868" stroke-width="8.8"/><path d="M169.6 254.8L179.8 248.6" stroke="#939393" stroke-width="6.3"/><path d="M169.3 254.3L179.5 248.1" stroke="#b0b0b0" stroke-width="2.8"/><path d="M75.5 327.5L85.6 321.2" stroke="#686868" stroke-width="8.8"/><path d="M75.2 327L85.3 320.7" stroke="#939393" stroke-width="6.3"/><path d="M74.9 326.5L85 320.2" stroke="#b0b0b0" stroke-width="2.8"/><path d="M97.7 313.6L107.8 307.3" stroke="#686868" stroke-width="8.8"/><path d="M97.4 313.1L107.5 306.8" stroke="#939393" stroke-width="6.3"/><path d="M97.1 312.6L107.2 306.3" stroke="#b0b0b0" stroke-width="2.8"/><path d="M119.9 299.7L130 293.4" stroke="#686868" stroke-width="8.8"/><path d="M119.6 299.2L129.7 292.9" stroke="#939393" stroke-width="6.3"/><path d="M119.3 298.7L129.4 292.4" stroke="#b0b0b0" stroke-width="2.8"/><path d="M142.1 285.8L152.2 279.5" stroke="#686868" stroke-width="8.8"/><path d="M141.8 285.3L151.9 279" stroke="#939393" stroke-width="6.3"/><path d="M141.5 284.8L151.6 278.5" stroke="#b0b0b0" stroke-width="2.8"/><path d="M164.3 271.9L174.4 265.6" stroke="#686868" stroke-width="8.8"/><path d="M164 271.4L174.1 265.1" stroke="#939393" stroke-width="6.3"/><path d="M163.7 270.9L173.8 264.6" stroke="#b0b0b0" stroke-width="2.8"/><path d="M92.9 330.9L102.9 324.4" stroke="#686868" stroke-width="8.8"/><path d="M92.6 330.4L102.6 323.9" stroke="#939393" stroke-width="6.3"/><path d="M92.3 329.9L102.3 323.4" stroke="#b0b0b0" stroke-width="2.8"/><path d="M114.9 316.8L124.9 310.4" stroke="#686868" stroke-width="8.8"/><path d="M114.6 316.3L124.6 309.9" stroke="#939393" stroke-width="6.3"/><path d="M114.3 315.8L124.3 309.4" stroke="#b0b0b0" stroke-width="2.8"/><path d="M136.9 302.7L146.9 296.3" stroke="#686868" stroke-width="8.8"/><path d="M136.6 302.2L146.6 295.8" stroke="#939393" stroke-width="6.3"/><path d="M136.3 301.7L146.3 295.3" stroke="#b0b0b0" stroke-width="2.8"/><path d="M158.8 288.6L168.8 282.2" stroke="#686868" stroke-width="8.8"/><path d="M158.5 288.1L168.5 281.7" stroke="#939393" stroke-width="6.3"/><path d="M158.2 287.6L168.2 281.2" stroke="#b0b0b0" stroke-width="2.8"/><path d="M180.8 274.6L190.8 268.1" stroke="#686868" stroke-width="8.8"/><path d="M180.5 274.1L190.5 267.6" stroke="#939393" stroke-width="6.3"/><path d="M180.2 273.6L190.2 267.1" stroke="#b0b0b0" stroke-width="2.8"/></g>
<g stroke-linecap="round" fill="none" filter="url(#blur04)"><path d="M369.5 247.9L501.4 176" stroke="#9479cf" stroke-width="8.8"/><path d="M369.2 247.4L501.1 175.5" stroke="#ae95e2" stroke-width="6.3"/><path d="M368.9 246.9L500.8 175" stroke="#c3b0ee" stroke-width="2.8"/><path d="M375.1 258.7L507.2 185.7" stroke="#9479cf" stroke-width="8.8"/><path d="M374.8 258.2L506.9 185.2" stroke="#ae95e2" stroke-width="6.3"/><path d="M374.5 257.7L506.6 184.7" stroke="#c3b0ee" stroke-width="2.8"/><path d="M380.7 269.4L513 195.4" stroke="#9479cf" stroke-width="8.8"/><path d="M380.4 268.9L512.7 194.9" stroke="#ae95e2" stroke-width="6.3"/><path d="M380.1 268.4L512.4 194.4" stroke="#c3b0ee" stroke-width="2.8"/><path d="M386.2 280.2L518.7 205.1" stroke="#9479cf" stroke-width="8.8"/><path d="M385.9 279.7L518.4 204.6" stroke="#ae95e2" stroke-width="6.3"/><path d="M385.6 279.2L518.1 204.1" stroke="#c3b0ee" stroke-width="2.8"/><path d="M391.8 291L524.5 214.8" stroke="#9479cf" stroke-width="8.8"/><path d="M391.5 290.5L524.2 214.3" stroke="#ae95e2" stroke-width="6.3"/><path d="M391.2 290L523.9 213.8" stroke="#c3b0ee" stroke-width="2.8"/><path d="M397.4 301.7L530.3 224.5" stroke="#9479cf" stroke-width="8.8"/><path d="M397.1 301.2L530 224" stroke="#ae95e2" stroke-width="6.3"/><path d="M396.8 300.7L529.7 223.5" stroke="#c3b0ee" stroke-width="2.8"/><path d="M403 312.5L536.1 234.2" stroke="#9479cf" stroke-width="8.8"/><path d="M402.7 312L535.8 233.7" stroke="#ae95e2" stroke-width="6.3"/><path d="M402.4 311.5L535.5 233.2" stroke="#c3b0ee" stroke-width="2.8"/><path d="M408.5 323.3L541.8 243.9" stroke="#9479cf" stroke-width="8.8"/><path d="M408.2 322.8L541.5 243.4" stroke="#ae95e2" stroke-width="6.3"/><path d="M407.9 322.3L541.2 242.9" stroke="#c3b0ee" stroke-width="2.8"/><path d="M414.1 334L547.6 253.6" stroke="#9479cf" stroke-width="8.8"/><path d="M413.8 333.5L547.3 253.1" stroke="#ae95e2" stroke-width="6.3"/><path d="M413.5 333L547 252.6" stroke="#c3b0ee" stroke-width="2.8"/><path d="M419.7 344.8L553.4 263.3" stroke="#9479cf" stroke-width="8.8"/><path d="M419.4 344.3L553.1 262.8" stroke="#ae95e2" stroke-width="6.3"/><path d="M419.1 343.8L552.8 262.3" stroke="#c3b0ee" stroke-width="2.8"/><path d="M375.6 232L436.2 347.7" stroke="#9479cf" stroke-width="8.8"/><path d="M375.3 231.5L435.9 347.2" stroke="#ae95e2" stroke-width="6.3"/><path d="M375 231L435.6 346.7" stroke="#c3b0ee" stroke-width="2.8"/><path d="M387.7 225.4L448.5 340.1" stroke="#9479cf" stroke-width="8.8"/><path d="M387.4 224.9L448.2 339.6" stroke="#ae95e2" stroke-width="6.3"/><path d="M387.1 224.4L447.9 339.1" stroke="#c3b0ee" stroke-width="2.8"/><path d="M399.9 218.9L460.9 332.5" stroke="#9479cf" stroke-width="8.8"/><path d="M399.6 218.4L460.6 332" stroke="#ae95e2" stroke-width="6.3"/><path d="M399.3 217.9L460.3 331.5" stroke="#c3b0ee" stroke-width="2.8"/><path d="M412 212.3L473.2 324.9" stroke="#9479cf" stroke-width="8.8"/><path d="M411.7 211.8L472.9 324.4" stroke="#ae95e2" stroke-width="6.3"/><path d="M411.4 211.3L472.6 323.9" stroke="#c3b0ee" stroke-width="2.8"/><path d="M424.2 205.8L485.6 317.3" stroke="#9479cf" stroke-width="8.8"/><path d="M423.9 205.3L485.3 316.8" stroke="#ae95e2" stroke-width="6.3"/><path d="M423.6 204.8L485 316.3" stroke="#c3b0ee" stroke-width="2.8"/><path d="M436.3 199.2L497.9 309.7" stroke="#9479cf" stroke-width="8.8"/><path d="M436 198.7L497.6 309.2" stroke="#ae95e2" stroke-width="6.3"/><path d="M435.7 198.2L497.3 308.7" stroke="#c3b0ee" stroke-width="2.8"/><path d="M448.5 192.7L510.3 302.1" stroke="#9479cf" stroke-width="8.8"/><path d="M448.2 192.2L510 301.6" stroke="#ae95e2" stroke-width="6.3"/><path d="M447.9 191.7L509.7 301.1" stroke="#c3b0ee" stroke-width="2.8"/><path d="M460.6 186.1L522.6 294.5" stroke="#9479cf" stroke-width="8.8"/><path d="M460.3 185.6L522.3 294" stroke="#ae95e2" stroke-width="6.3"/><path d="M460 185.1L522 293.5" stroke="#c3b0ee" stroke-width="2.8"/><path d="M472.8 179.6L535 286.9" stroke="#9479cf" stroke-width="8.8"/><path d="M472.5 179.1L534.7 286.4" stroke="#ae95e2" stroke-width="6.3"/><path d="M472.2 178.6L534.4 285.9" stroke="#c3b0ee" stroke-width="2.8"/><path d="M484.9 173L547.3 279.3" stroke="#9479cf" stroke-width="8.8"/><path d="M484.6 172.5L547 278.8" stroke="#ae95e2" stroke-width="6.3"/><path d="M484.3 172L546.7 278.3" stroke="#c3b0ee" stroke-width="2.8"/><path d="M375.2 244.8L386.3 238.8" stroke="#9479cf" stroke-width="8.8"/><path d="M374.9 244.3L386 238.3" stroke="#ae95e2" stroke-width="6.3"/><path d="M374.6 243.8L385.7 237.8" stroke="#c3b0ee" stroke-width="2.8"/><path d="M399.5 231.6L410.6 225.5" stroke="#9479cf" stroke-width="8.8"/><path d="M399.2 231.1L410.3 225" stroke="#ae95e2" stroke-width="6.3"/><path d="M398.9 230.6L410 224.5" stroke="#c3b0ee" stroke-width="2.8"/><path d="M423.9 218.3L434.9 212.2" stroke="#9479cf" stroke-width="8.8"/><path d="M423.6 217.8L434.6 211.7" stroke="#ae95e2" stroke-width="6.3"/><path d="M423.3 217.3L434.3 211.2" stroke="#c3b0ee" stroke-width="2.8"/><path d="M448.2 205L459.3 199" stroke="#9479cf" stroke-width="8.8"/><path d="M447.9 204.5L459 198.5" stroke="#ae95e2" stroke-width="6.3"/><path d="M447.6 204L458.7 198" stroke="#c3b0ee" stroke-width="2.8"/><path d="M472.5 191.7L483.6 185.7" stroke="#9479cf" stroke-width="8.8"/><path d="M472.2 191.2L483.3 185.2" stroke="#ae95e2" stroke-width="6.3"/><path d="M471.9 190.7L483 184.7" stroke="#c3b0ee" stroke-width="2.8"/><path d="M393 248.8L404.1 242.7" stroke="#9479cf" stroke-width="8.8"/><path d="M392.7 248.3L403.8 242.2" stroke="#ae95e2" stroke-width="6.3"/><path d="M392.4 247.8L403.5 241.7" stroke="#c3b0ee" stroke-width="2.8"/><path d="M417.3 235.3L428.4 229.2" stroke="#9479cf" stroke-width="8.8"/><path d="M417 234.8L428.1 228.7" stroke="#ae95e2" stroke-width="6.3"/><path d="M416.7 234.3L427.8 228.2" stroke="#c3b0ee" stroke-width="2.8"/><path d="M441.7 221.9L452.8 215.7" stroke="#9479cf" stroke-width="8.8"/><path d="M441.4 221.4L452.5 215.2" stroke="#ae95e2" stroke-width="6.3"/><path d="M441.1 220.9L452.2 214.7" stroke="#c3b0ee" stroke-width="2.8"/><path d="M466.1 208.4L477.2 202.3" stroke="#9479cf" stroke-width="8.8"/><path d="M465.8 207.9L476.9 201.8" stroke="#ae95e2" stroke-width="6.3"/><path d="M465.5 207.4L476.6 201.3" stroke="#c3b0ee" stroke-width="2.8"/><path d="M490.4 194.9L501.5 188.8" stroke="#9479cf" stroke-width="8.8"/><path d="M490.1 194.4L501.2 188.3" stroke="#ae95e2" stroke-width="6.3"/><path d="M489.8 193.9L500.9 187.8" stroke="#c3b0ee" stroke-width="2.8"/><path d="M386.4 266.3L397.5 260" stroke="#9479cf" stroke-width="8.8"/><path d="M386.1 265.8L397.2 259.5" stroke="#ae95e2" stroke-width="6.3"/><path d="M385.8 265.3L396.9 259" stroke="#c3b0ee" stroke-width="2.8"/><path d="M410.8 252.6L421.9 246.4" stroke="#9479cf" stroke-width="8.8"/><path d="M410.5 252.1L421.6 245.9" stroke="#ae95e2" stroke-width="6.3"/><path d="M410.2 251.6L421.3 245.4" stroke="#c3b0ee" stroke-width="2.8"/><path d="M435.2 238.9L446.3 232.7" stroke="#9479cf" stroke-width="8.8"/><path d="M434.9 238.4L446 232.2" stroke="#ae95e2" stroke-width="6.3"/><path d="M434.6 237.9L445.7 231.7" stroke="#c3b0ee" stroke-width="2.8"/><path d="M459.6 225.3L470.7 219.1" stroke="#9479cf" stroke-width="8.8"/><path d="M459.3 224.8L470.4 218.6" stroke="#ae95e2" stroke-width="6.3"/><path d="M459 224.3L470.1 218.1" stroke="#c3b0ee" stroke-width="2.8"/><path d="M484 211.6L495.1 205.4" stroke="#9479cf" stroke-width="8.8"/><path d="M483.7 211.1L494.8 204.9" stroke="#ae95e2" stroke-width="6.3"/><path d="M483.4 210.6L494.5 204.4" stroke="#c3b0ee" stroke-width="2.8"/><path d="M404.2 270L415.3 263.7" stroke="#9479cf" stroke-width="8.8"/><path d="M403.9 269.5L415 263.2" stroke="#ae95e2" stroke-width="6.3"/><path d="M403.6 269L414.7 262.7" stroke="#c3b0ee" stroke-width="2.8"/><path d="M428.6 256.2L439.7 249.9" stroke="#9479cf" stroke-width="8.8"/><path d="M428.3 255.7L439.4 249.4" stroke="#ae95e2" stroke-width="6.3"/><path d="M428 255.2L439.1 248.9" stroke="#c3b0ee" stroke-width="2.8"/><path d="M453 242.3L464.2 236" stroke="#9479cf" stroke-width="8.8"/><path d="M452.7 241.8L463.9 235.5" stroke="#ae95e2" stroke-width="6.3"/><path d="M452.4 241.3L463.6 235" stroke="#c3b0ee" stroke-width="2.8"/><path d="M477.5 228.5L488.6 222.2" stroke="#9479cf" stroke-width="8.8"/><path d="M477.2 228L488.3 221.7" stroke="#ae95e2" stroke-width="6.3"/><path d="M476.9 227.5L488 221.2" stroke="#c3b0ee" stroke-width="2.8"/><path d="M501.9 214.6L513 208.3" stroke="#9479cf" stroke-width="8.8"/><path d="M501.6 214.1L512.7 207.8" stroke="#ae95e2" stroke-width="6.3"/><path d="M501.3 213.6L512.4 207.3" stroke="#c3b0ee" stroke-width="2.8"/><path d="M397.5 287.7L408.7 281.3" stroke="#9479cf" stroke-width="8.8"/><path d="M397.2 287.2L408.4 280.8" stroke="#ae95e2" stroke-width="6.3"/><path d="M396.9 286.7L408.1 280.3" stroke="#c3b0ee" stroke-width="2.8"/><path d="M422 273.6L433.1 267.2" stroke="#9479cf" stroke-width="8.8"/><path d="M421.7 273.1L432.8 266.7" stroke="#ae95e2" stroke-width="6.3"/><path d="M421.4 272.6L432.5 266.2" stroke="#c3b0ee" stroke-width="2.8"/><path d="M446.5 259.6L457.6 253.2" stroke="#9479cf" stroke-width="8.8"/><path d="M446.2 259.1L457.3 252.7" stroke="#ae95e2" stroke-width="6.3"/><path d="M445.9 258.6L457 252.2" stroke="#c3b0ee" stroke-width="2.8"/><path d="M470.9 245.5L482.1 239.1" stroke="#9479cf" stroke-width="8.8"/><path d="M470.6 245L481.8 238.6" stroke="#ae95e2" stroke-width="6.3"/><path d="M470.3 244.5L481.5 238.1" stroke="#c3b0ee" stroke-width="2.8"/><path d="M495.4 231.5L506.6 225.1" stroke="#9479cf" stroke-width="8.8"/><path d="M495.1 231L506.3 224.6" stroke="#ae95e2" stroke-width="6.3"/><path d="M494.8 230.5L506 224.1" stroke="#c3b0ee" stroke-width="2.8"/><path d="M415.4 291.3L426.5 284.8" stroke="#9479cf" stroke-width="8.8"/><path d="M415.1 290.8L426.2 284.3" stroke="#ae95e2" stroke-width="6.3"/><path d="M414.8 290.3L425.9 283.8" stroke="#c3b0ee" stroke-width="2.8"/><path d="M439.9 277L451 270.6" stroke="#9479cf" stroke-width="8.8"/><path d="M439.6 276.5L450.7 270.1" stroke="#ae95e2" stroke-width="6.3"/><path d="M439.3 276L450.4 269.6" stroke="#c3b0ee" stroke-width="2.8"/><path d="M464.4 262.8L475.5 256.3" stroke="#9479cf" stroke-width="8.8"/><path d="M464.1 262.3L475.2 255.8" stroke="#ae95e2" stroke-width="6.3"/><path d="M463.8 261.8L474.9 255.3" stroke="#c3b0ee" stroke-width="2.8"/><path d="M488.9 248.6L500.1 242.1" stroke="#9479cf" stroke-width="8.8"/><path d="M488.6 248.1L499.8 241.6" stroke="#ae95e2" stroke-width="6.3"/><path d="M488.3 247.6L499.5 241.1" stroke="#c3b0ee" stroke-width="2.8"/><path d="M513.4 234.3L524.6 227.8" stroke="#9479cf" stroke-width="8.8"/><path d="M513.1 233.8L524.3 227.3" stroke="#ae95e2" stroke-width="6.3"/><path d="M512.8 233.3L524 226.8" stroke="#c3b0ee" stroke-width="2.8"/><path d="M408.7 309.1L419.9 302.6" stroke="#9479cf" stroke-width="8.8"/><path d="M408.4 308.6L419.6 302.1" stroke="#ae95e2" stroke-width="6.3"/><path d="M408.1 308.1L419.3 301.6" stroke="#c3b0ee" stroke-width="2.8"/><path d="M433.2 294.7L444.4 288.1" stroke="#9479cf" stroke-width="8.8"/><path d="M432.9 294.2L444.1 287.6" stroke="#ae95e2" stroke-width="6.3"/><path d="M432.6 293.7L443.8 287.1" stroke="#c3b0ee" stroke-width="2.8"/><path d="M457.8 280.3L469 273.7" stroke="#9479cf" stroke-width="8.8"/><path d="M457.5 279.8L468.7 273.2" stroke="#ae95e2" stroke-width="6.3"/><path d="M457.2 279.3L468.4 272.7" stroke="#c3b0ee" stroke-width="2.8"/><path d="M482.3 265.8L493.5 259.2" stroke="#9479cf" stroke-width="8.8"/><path d="M482 265.3L493.2 258.7" stroke="#ae95e2" stroke-width="6.3"/><path d="M481.7 264.8L492.9 258.2" stroke="#c3b0ee" stroke-width="2.8"/><path d="M506.9 251.4L518.1 244.8" stroke="#9479cf" stroke-width="8.8"/><path d="M506.6 250.9L517.8 244.3" stroke="#ae95e2" stroke-width="6.3"/><path d="M506.3 250.4L517.5 243.8" stroke="#c3b0ee" stroke-width="2.8"/><path d="M426.6 312.5L437.7 305.9" stroke="#9479cf" stroke-width="8.8"/><path d="M426.3 312L437.4 305.4" stroke="#ae95e2" stroke-width="6.3"/><path d="M426 311.5L437.1 304.9" stroke="#c3b0ee" stroke-width="2.8"/><path d="M451.1 297.9L462.3 291.2" stroke="#9479cf" stroke-width="8.8"/><path d="M450.8 297.4L462 290.7" stroke="#ae95e2" stroke-width="6.3"/><path d="M450.5 296.9L461.7 290.2" stroke="#c3b0ee" stroke-width="2.8"/><path d="M475.7 283.3L486.9 276.6" stroke="#9479cf" stroke-width="8.8"/><path d="M475.4 282.8L486.6 276.1" stroke="#ae95e2" stroke-width="6.3"/><path d="M475.1 282.3L486.3 275.6" stroke="#c3b0ee" stroke-width="2.8"/><path d="M500.3 268.6L511.5 262" stroke="#9479cf" stroke-width="8.8"/><path d="M500 268.1L511.2 261.5" stroke="#ae95e2" stroke-width="6.3"/><path d="M499.7 267.6L510.9 261" stroke="#c3b0ee" stroke-width="2.8"/><path d="M524.9 254L536.1 247.3" stroke="#9479cf" stroke-width="8.8"/><path d="M524.6 253.5L535.8 246.8" stroke="#ae95e2" stroke-width="6.3"/><path d="M524.3 253L535.5 246.3" stroke="#c3b0ee" stroke-width="2.8"/><path d="M419.8 330.6L431.1 323.8" stroke="#9479cf" stroke-width="8.8"/><path d="M419.5 330.1L430.8 323.3" stroke="#ae95e2" stroke-width="6.3"/><path d="M419.2 329.6L430.5 322.8" stroke="#c3b0ee" stroke-width="2.8"/><path d="M444.5 315.7L455.7 309" stroke="#9479cf" stroke-width="8.8"/><path d="M444.2 315.2L455.4 308.5" stroke="#ae95e2" stroke-width="6.3"/><path d="M443.9 314.7L455.1 308" stroke="#c3b0ee" stroke-width="2.8"/><path d="M469.1 300.9L480.3 294.2" stroke="#9479cf" stroke-width="8.8"/><path d="M468.8 300.4L480 293.7" stroke="#ae95e2" stroke-width="6.3"/><path d="M468.5 299.9L479.7 293.2" stroke="#c3b0ee" stroke-width="2.8"/><path d="M493.7 286.1L504.9 279.3" stroke="#9479cf" stroke-width="8.8"/><path d="M493.4 285.6L504.6 278.8" stroke="#ae95e2" stroke-width="6.3"/><path d="M493.1 285.1L504.3 278.3" stroke="#c3b0ee" stroke-width="2.8"/><path d="M518.3 271.3L529.6 264.5" stroke="#9479cf" stroke-width="8.8"/><path d="M518 270.8L529.3 264" stroke="#ae95e2" stroke-width="6.3"/><path d="M517.7 270.3L529 263.5" stroke="#c3b0ee" stroke-width="2.8"/><path d="M437.7 333.8L449 326.9" stroke="#9479cf" stroke-width="8.8"/><path d="M437.4 333.3L448.7 326.4" stroke="#ae95e2" stroke-width="6.3"/><path d="M437.1 332.8L448.4 325.9" stroke="#c3b0ee" stroke-width="2.8"/><path d="M462.4 318.7L473.6 311.9" stroke="#9479cf" stroke-width="8.8"/><path d="M462.1 318.2L473.3 311.4" stroke="#ae95e2" stroke-width="6.3"/><path d="M461.8 317.7L473 310.9" stroke="#c3b0ee" stroke-width="2.8"/><path d="M487.1 303.7L498.3 296.9" stroke="#9479cf" stroke-width="8.8"/><path d="M486.8 303.2L498 296.4" stroke="#ae95e2" stroke-width="6.3"/><path d="M486.5 302.7L497.7 295.9" stroke="#c3b0ee" stroke-width="2.8"/><path d="M511.7 288.7L523 281.9" stroke="#9479cf" stroke-width="8.8"/><path d="M511.4 288.2L522.7 281.4" stroke="#ae95e2" stroke-width="6.3"/><path d="M511.1 287.7L522.4 280.9" stroke="#c3b0ee" stroke-width="2.8"/><path d="M536.4 273.7L547.6 266.9" stroke="#9479cf" stroke-width="8.8"/><path d="M536.1 273.2L547.3 266.4" stroke="#ae95e2" stroke-width="6.3"/><path d="M535.8 272.7L547 265.9" stroke="#c3b0ee" stroke-width="2.8"/></g>
<g stroke-linecap="round" fill="none" filter="url(#blur07)"><path d="M716.9 228.6L853.3 181.8" stroke="#767676" stroke-width="9.2"/><path d="M716.6 228.1L853 181.3" stroke="#8f8f8f" stroke-width="6.6"/><path d="M716.3 227.6L852.7 180.8" stroke="#a2a2a2" stroke-width="2.9"/><path d="M720.1 241.1L858.1 193.8" stroke="#767676" stroke-width="9.2"/><path d="M719.8 240.6L857.8 193.3" stroke="#8f8f8f" stroke-width="6.6"/><path d="M719.5 240.1L857.5 192.8" stroke="#a2a2a2" stroke-width="2.9"/><path d="M723.3 253.6L862.9 205.8" stroke="#767676" stroke-width="9.2"/><path d="M723 253.1L862.6 205.3" stroke="#8f8f8f" stroke-width="6.6"/><path d="M722.7 252.6L862.3 204.8" stroke="#a2a2a2" stroke-width="2.9"/><path d="M726.5 266.2L867.7 217.9" stroke="#767676" stroke-width="9.2"/><path d="M726.2 265.7L867.4 217.4" stroke="#8f8f8f" stroke-width="6.6"/><path d="M725.9 265.2L867.1 216.9" stroke="#a2a2a2" stroke-width="2.9"/><path d="M729.7 278.7L872.5 229.9" stroke="#767676" stroke-width="9.2"/><path d="M729.4 278.2L872.2 229.4" stroke="#8f8f8f" stroke-width="6.6"/><path d="M729.1 277.7L871.9 228.9" stroke="#a2a2a2" stroke-width="2.9"/><path d="M732.8 291.3L877.2 241.9" stroke="#767676" stroke-width="9.2"/><path d="M732.5 290.8L876.9 241.4" stroke="#8f8f8f" stroke-width="6.6"/><path d="M732.2 290.3L876.6 240.9" stroke="#a2a2a2" stroke-width="2.9"/><path d="M736 303.8L882 253.9" stroke="#767676" stroke-width="9.2"/><path d="M735.7 303.3L881.7 253.4" stroke="#8f8f8f" stroke-width="6.6"/><path d="M735.4 302.8L881.4 252.9" stroke="#a2a2a2" stroke-width="2.9"/><path d="M739.2 316.4L886.8 266" stroke="#767676" stroke-width="9.2"/><path d="M738.9 315.9L886.5 265.5" stroke="#8f8f8f" stroke-width="6.6"/><path d="M738.6 315.4L886.2 265" stroke="#a2a2a2" stroke-width="2.9"/><path d="M742.4 328.9L891.6 278" stroke="#767676" stroke-width="9.2"/><path d="M742.1 328.4L891.3 277.5" stroke="#8f8f8f" stroke-width="6.6"/><path d="M741.8 327.9L891 277" stroke="#a2a2a2" stroke-width="2.9"/><path d="M745.6 341.4L896.4 290" stroke="#767676" stroke-width="9.2"/><path d="M745.3 340.9L896.1 289.5" stroke="#8f8f8f" stroke-width="6.6"/><path d="M745 340.4L895.8 289" stroke="#a2a2a2" stroke-width="2.9"/><path d="M725.5 213.1L761.4 348.6" stroke="#767676" stroke-width="9.2"/><path d="M725.2 212.6L761.1 348.1" stroke="#8f8f8f" stroke-width="6.6"/><path d="M724.9 212.1L760.8 347.6" stroke="#a2a2a2" stroke-width="2.9"/><path d="M737.9 208.8L775.5 343.8" stroke="#767676" stroke-width="9.2"/><path d="M737.6 208.3L775.2 343.3" stroke="#8f8f8f" stroke-width="6.6"/><path d="M737.3 207.8L774.9 342.8" stroke="#a2a2a2" stroke-width="2.9"/><path d="M750.3 204.5L789.5 339" stroke="#767676" stroke-width="9.2"/><path d="M750 204L789.2 338.5" stroke="#8f8f8f" stroke-width="6.6"/><path d="M749.7 203.5L788.9 338" stroke="#a2a2a2" stroke-width="2.9"/><path d="M762.8 200.3L803.6 334.2" stroke="#767676" stroke-width="9.2"/><path d="M762.5 199.8L803.3 333.7" stroke="#8f8f8f" stroke-width="6.6"/><path d="M762.2 199.3L803 333.2" stroke="#a2a2a2" stroke-width="2.9"/><path d="M775.2 196L817.6 329.4" stroke="#767676" stroke-width="9.2"/><path d="M774.9 195.5L817.3 328.9" stroke="#8f8f8f" stroke-width="6.6"/><path d="M774.6 195L817 328.4" stroke="#a2a2a2" stroke-width="2.9"/><path d="M787.7 191.7L831.7 324.7" stroke="#767676" stroke-width="9.2"/><path d="M787.4 191.2L831.4 324.2" stroke="#8f8f8f" stroke-width="6.6"/><path d="M787.1 190.7L831.1 323.7" stroke="#a2a2a2" stroke-width="2.9"/><path d="M800.1 187.4L845.7 319.9" stroke="#767676" stroke-width="9.2"/><path d="M799.8 186.9L845.4 319.4" stroke="#8f8f8f" stroke-width="6.6"/><path d="M799.5 186.4L845.1 318.9" stroke="#a2a2a2" stroke-width="2.9"/><path d="M812.6 183.2L859.8 315.1" stroke="#767676" stroke-width="9.2"/><path d="M812.3 182.7L859.5 314.6" stroke="#8f8f8f" stroke-width="6.6"/><path d="M812 182.2L859.2 314.1" stroke="#a2a2a2" stroke-width="2.9"/><path d="M825 178.9L873.8 310.3" stroke="#767676" stroke-width="9.2"/><path d="M824.7 178.4L873.5 309.8" stroke="#8f8f8f" stroke-width="6.6"/><path d="M824.4 177.9L873.2 309.3" stroke="#a2a2a2" stroke-width="2.9"/><path d="M837.4 174.6L887.9 305.5" stroke="#767676" stroke-width="9.2"/><path d="M837.1 174.1L887.6 305" stroke="#8f8f8f" stroke-width="6.6"/><path d="M836.8 173.6L887.3 304.5" stroke="#a2a2a2" stroke-width="2.9"/><path d="M722.8 226.5L734.3 222.6" stroke="#767676" stroke-width="9.2"/><path d="M722.5 226L734 222.1" stroke="#8f8f8f" stroke-width="6.6"/><path d="M722.2 225.5L733.7 221.6" stroke="#a2a2a2" stroke-width="2.9"/><path d="M748 217.9L759.4 214" stroke="#767676" stroke-width="9.2"/><path d="M747.7 217.4L759.1 213.5" stroke="#8f8f8f" stroke-width="6.6"/><path d="M747.4 216.9L758.8 213" stroke="#a2a2a2" stroke-width="2.9"/><path d="M773.1 209.3L784.6 205.4" stroke="#767676" stroke-width="9.2"/><path d="M772.8 208.8L784.3 204.9" stroke="#8f8f8f" stroke-width="6.6"/><path d="M772.5 208.3L784 204.4" stroke="#a2a2a2" stroke-width="2.9"/><path d="M798.3 200.7L809.7 196.7" stroke="#767676" stroke-width="9.2"/><path d="M798 200.2L809.4 196.2" stroke="#8f8f8f" stroke-width="6.6"/><path d="M797.7 199.7L809.1 195.7" stroke="#a2a2a2" stroke-width="2.9"/><path d="M823.4 192L834.9 188.1" stroke="#767676" stroke-width="9.2"/><path d="M823.1 191.5L834.6 187.6" stroke="#8f8f8f" stroke-width="6.6"/><path d="M822.8 191L834.3 187.1" stroke="#a2a2a2" stroke-width="2.9"/><path d="M738.8 234.7L750.4 230.7" stroke="#767676" stroke-width="9.2"/><path d="M738.5 234.2L750.1 230.2" stroke="#8f8f8f" stroke-width="6.6"/><path d="M738.2 233.7L749.8 229.7" stroke="#a2a2a2" stroke-width="2.9"/><path d="M764.2 226L775.8 222" stroke="#767676" stroke-width="9.2"/><path d="M763.9 225.5L775.5 221.5" stroke="#8f8f8f" stroke-width="6.6"/><path d="M763.6 225L775.2 221" stroke="#a2a2a2" stroke-width="2.9"/><path d="M789.7 217.3L801.3 213.3" stroke="#767676" stroke-width="9.2"/><path d="M789.4 216.8L801 212.8" stroke="#8f8f8f" stroke-width="6.6"/><path d="M789.1 216.3L800.7 212.3" stroke="#a2a2a2" stroke-width="2.9"/><path d="M815.1 208.5L826.7 204.6" stroke="#767676" stroke-width="9.2"/><path d="M814.8 208L826.4 204.1" stroke="#8f8f8f" stroke-width="6.6"/><path d="M814.5 207.5L826.1 203.6" stroke="#a2a2a2" stroke-width="2.9"/><path d="M840.6 199.8L852.2 195.8" stroke="#767676" stroke-width="9.2"/><path d="M840.3 199.3L851.9 195.3" stroke="#8f8f8f" stroke-width="6.6"/><path d="M840 198.8L851.6 194.8" stroke="#a2a2a2" stroke-width="2.9"/><path d="M729.3 251.6L741 247.6" stroke="#767676" stroke-width="9.2"/><path d="M729 251.1L740.7 247.1" stroke="#8f8f8f" stroke-width="6.6"/><path d="M728.7 250.6L740.4 246.6" stroke="#a2a2a2" stroke-width="2.9"/><path d="M755 242.8L766.8 238.8" stroke="#767676" stroke-width="9.2"/><path d="M754.7 242.3L766.5 238.3" stroke="#8f8f8f" stroke-width="6.6"/><path d="M754.4 241.8L766.2 237.8" stroke="#a2a2a2" stroke-width="2.9"/><path d="M780.8 234L792.5 229.9" stroke="#767676" stroke-width="9.2"/><path d="M780.5 233.5L792.2 229.4" stroke="#8f8f8f" stroke-width="6.6"/><path d="M780.2 233L791.9 228.9" stroke="#a2a2a2" stroke-width="2.9"/><path d="M806.5 225.1L818.3 221.1" stroke="#767676" stroke-width="9.2"/><path d="M806.2 224.6L818 220.6" stroke="#8f8f8f" stroke-width="6.6"/><path d="M805.9 224.1L817.7 220.1" stroke="#a2a2a2" stroke-width="2.9"/><path d="M832.3 216.3L844 212.3" stroke="#767676" stroke-width="9.2"/><path d="M832 215.8L843.7 211.8" stroke="#8f8f8f" stroke-width="6.6"/><path d="M831.7 215.3L843.4 211.3" stroke="#a2a2a2" stroke-width="2.9"/><path d="M745.6 259.7L757.4 255.6" stroke="#767676" stroke-width="9.2"/><path d="M745.3 259.2L757.1 255.1" stroke="#8f8f8f" stroke-width="6.6"/><path d="M745 258.7L756.8 254.6" stroke="#a2a2a2" stroke-width="2.9"/><path d="M771.6 250.7L783.5 246.7" stroke="#767676" stroke-width="9.2"/><path d="M771.3 250.2L783.2 246.2" stroke="#8f8f8f" stroke-width="6.6"/><path d="M771 249.7L782.9 245.7" stroke="#a2a2a2" stroke-width="2.9"/><path d="M797.7 241.8L809.5 237.8" stroke="#767676" stroke-width="9.2"/><path d="M797.4 241.3L809.2 237.3" stroke="#8f8f8f" stroke-width="6.6"/><path d="M797.1 240.8L808.9 236.8" stroke="#a2a2a2" stroke-width="2.9"/><path d="M823.7 232.9L835.6 228.9" stroke="#767676" stroke-width="9.2"/><path d="M823.4 232.4L835.3 228.4" stroke="#8f8f8f" stroke-width="6.6"/><path d="M823.1 231.9L835 227.9" stroke="#a2a2a2" stroke-width="2.9"/><path d="M849.7 224L861.6 219.9" stroke="#767676" stroke-width="9.2"/><path d="M849.4 223.5L861.3 219.4" stroke="#8f8f8f" stroke-width="6.6"/><path d="M849.1 223L861 218.9" stroke="#a2a2a2" stroke-width="2.9"/><path d="M735.8 276.6L747.8 272.5" stroke="#767676" stroke-width="9.2"/><path d="M735.5 276.1L747.5 272" stroke="#8f8f8f" stroke-width="6.6"/><path d="M735.2 275.6L747.2 271.5" stroke="#a2a2a2" stroke-width="2.9"/><path d="M762.1 267.6L774.1 263.5" stroke="#767676" stroke-width="9.2"/><path d="M761.8 267.1L773.8 263" stroke="#8f8f8f" stroke-width="6.6"/><path d="M761.5 266.6L773.5 262.5" stroke="#a2a2a2" stroke-width="2.9"/><path d="M788.5 258.6L800.5 254.5" stroke="#767676" stroke-width="9.2"/><path d="M788.2 258.1L800.2 254" stroke="#8f8f8f" stroke-width="6.6"/><path d="M787.9 257.6L799.9 253.5" stroke="#a2a2a2" stroke-width="2.9"/><path d="M814.8 249.6L826.8 245.5" stroke="#767676" stroke-width="9.2"/><path d="M814.5 249.1L826.5 245" stroke="#8f8f8f" stroke-width="6.6"/><path d="M814.2 248.6L826.2 244.5" stroke="#a2a2a2" stroke-width="2.9"/><path d="M841.2 240.6L853.1 236.5" stroke="#767676" stroke-width="9.2"/><path d="M840.9 240.1L852.8 236" stroke="#8f8f8f" stroke-width="6.6"/><path d="M840.6 239.6L852.5 235.5" stroke="#a2a2a2" stroke-width="2.9"/><path d="M752.4 284.6L764.5 280.5" stroke="#767676" stroke-width="9.2"/><path d="M752.1 284.1L764.2 280" stroke="#8f8f8f" stroke-width="6.6"/><path d="M751.8 283.6L763.9 279.5" stroke="#a2a2a2" stroke-width="2.9"/><path d="M779 275.5L791.1 271.3" stroke="#767676" stroke-width="9.2"/><path d="M778.7 275L790.8 270.8" stroke="#8f8f8f" stroke-width="6.6"/><path d="M778.4 274.5L790.5 270.3" stroke="#a2a2a2" stroke-width="2.9"/><path d="M805.6 266.4L817.8 262.2" stroke="#767676" stroke-width="9.2"/><path d="M805.3 265.9L817.5 261.7" stroke="#8f8f8f" stroke-width="6.6"/><path d="M805 265.4L817.2 261.2" stroke="#a2a2a2" stroke-width="2.9"/><path d="M832.3 257.3L844.4 253.1" stroke="#767676" stroke-width="9.2"/><path d="M832 256.8L844.1 252.6" stroke="#8f8f8f" stroke-width="6.6"/><path d="M831.7 256.3L843.8 252.1" stroke="#a2a2a2" stroke-width="2.9"/><path d="M858.9 248.2L871 244" stroke="#767676" stroke-width="9.2"/><path d="M858.6 247.7L870.7 243.5" stroke="#8f8f8f" stroke-width="6.6"/><path d="M858.3 247.2L870.4 243" stroke="#a2a2a2" stroke-width="2.9"/><path d="M742.3 301.7L754.6 297.5" stroke="#767676" stroke-width="9.2"/><path d="M742 301.2L754.3 297" stroke="#8f8f8f" stroke-width="6.6"/><path d="M741.7 300.7L754 296.5" stroke="#a2a2a2" stroke-width="2.9"/><path d="M769.2 292.5L781.5 288.3" stroke="#767676" stroke-width="9.2"/><path d="M768.9 292L781.2 287.8" stroke="#8f8f8f" stroke-width="6.6"/><path d="M768.6 291.5L780.9 287.3" stroke="#a2a2a2" stroke-width="2.9"/><path d="M796.2 283.3L808.4 279.1" stroke="#767676" stroke-width="9.2"/><path d="M795.9 282.8L808.1 278.6" stroke="#8f8f8f" stroke-width="6.6"/><path d="M795.6 282.3L807.8 278.1" stroke="#a2a2a2" stroke-width="2.9"/><path d="M823.1 274.1L835.4 269.9" stroke="#767676" stroke-width="9.2"/><path d="M822.8 273.6L835.1 269.4" stroke="#8f8f8f" stroke-width="6.6"/><path d="M822.5 273.1L834.8 268.9" stroke="#a2a2a2" stroke-width="2.9"/><path d="M850 264.9L862.3 260.7" stroke="#767676" stroke-width="9.2"/><path d="M849.7 264.4L862 260.2" stroke="#8f8f8f" stroke-width="6.6"/><path d="M849.4 263.9L861.7 259.7" stroke="#a2a2a2" stroke-width="2.9"/><path d="M759.2 309.5L771.6 305.3" stroke="#767676" stroke-width="9.2"/><path d="M758.9 309L771.3 304.8" stroke="#8f8f8f" stroke-width="6.6"/><path d="M758.6 308.5L771 304.3" stroke="#a2a2a2" stroke-width="2.9"/><path d="M786.4 300.2L798.8 296" stroke="#767676" stroke-width="9.2"/><path d="M786.1 299.7L798.5 295.5" stroke="#8f8f8f" stroke-width="6.6"/><path d="M785.8 299.2L798.2 295" stroke="#a2a2a2" stroke-width="2.9"/><path d="M813.6 291L826 286.7" stroke="#767676" stroke-width="9.2"/><path d="M813.3 290.5L825.7 286.2" stroke="#8f8f8f" stroke-width="6.6"/><path d="M813 290L825.4 285.7" stroke="#a2a2a2" stroke-width="2.9"/><path d="M840.8 281.7L853.2 277.4" stroke="#767676" stroke-width="9.2"/><path d="M840.5 281.2L852.9 276.9" stroke="#8f8f8f" stroke-width="6.6"/><path d="M840.2 280.7L852.6 276.4" stroke="#a2a2a2" stroke-width="2.9"/><path d="M868.1 272.4L880.5 268.1" stroke="#767676" stroke-width="9.2"/><path d="M867.8 271.9L880.2 267.6" stroke="#8f8f8f" stroke-width="6.6"/><path d="M867.5 271.4L879.9 267.1" stroke="#a2a2a2" stroke-width="2.9"/><path d="M748.8 326.7L761.3 322.4" stroke="#767676" stroke-width="9.2"/><path d="M748.5 326.2L761 321.9" stroke="#8f8f8f" stroke-width="6.6"/><path d="M748.2 325.7L760.7 321.4" stroke="#a2a2a2" stroke-width="2.9"/><path d="M776.3 317.3L788.9 313" stroke="#767676" stroke-width="9.2"/><path d="M776 316.8L788.6 312.5" stroke="#8f8f8f" stroke-width="6.6"/><path d="M775.7 316.3L788.3 312" stroke="#a2a2a2" stroke-width="2.9"/><path d="M803.8 307.9L816.4 303.7" stroke="#767676" stroke-width="9.2"/><path d="M803.5 307.4L816.1 303.2" stroke="#8f8f8f" stroke-width="6.6"/><path d="M803.2 306.9L815.8 302.7" stroke="#a2a2a2" stroke-width="2.9"/><path d="M831.4 298.5L843.9 294.3" stroke="#767676" stroke-width="9.2"/><path d="M831.1 298L843.6 293.8" stroke="#8f8f8f" stroke-width="6.6"/><path d="M830.8 297.5L843.3 293.3" stroke="#a2a2a2" stroke-width="2.9"/><path d="M858.9 289.2L871.4 284.9" stroke="#767676" stroke-width="9.2"/><path d="M858.6 288.7L871.1 284.4" stroke="#8f8f8f" stroke-width="6.6"/><path d="M858.3 288.2L870.8 283.9" stroke="#a2a2a2" stroke-width="2.9"/><path d="M766 334.5L778.6 330.2" stroke="#767676" stroke-width="9.2"/><path d="M765.7 334L778.3 329.7" stroke="#8f8f8f" stroke-width="6.6"/><path d="M765.4 333.5L778 329.2" stroke="#a2a2a2" stroke-width="2.9"/><path d="M793.8 325L806.4 320.7" stroke="#767676" stroke-width="9.2"/><path d="M793.5 324.5L806.1 320.2" stroke="#8f8f8f" stroke-width="6.6"/><path d="M793.2 324L805.8 319.7" stroke="#a2a2a2" stroke-width="2.9"/><path d="M821.6 315.5L834.3 311.2" stroke="#767676" stroke-width="9.2"/><path d="M821.3 315L834 310.7" stroke="#8f8f8f" stroke-width="6.6"/><path d="M821 314.5L833.7 310.2" stroke="#a2a2a2" stroke-width="2.9"/><path d="M849.4 306L862.1 301.7" stroke="#767676" stroke-width="9.2"/><path d="M849.1 305.5L861.8 301.2" stroke="#8f8f8f" stroke-width="6.6"/><path d="M848.8 305L861.5 300.7" stroke="#a2a2a2" stroke-width="2.9"/><path d="M877.2 296.5L889.9 292.2" stroke="#767676" stroke-width="9.2"/><path d="M876.9 296L889.6 291.7" stroke="#8f8f8f" stroke-width="6.6"/><path d="M876.6 295.5L889.3 291.2" stroke="#a2a2a2" stroke-width="2.9"/></g>
<g stroke-linecap="round" fill="none" filter="url(#blur04)"><path d="M1070 241.2L1197.8 180" stroke="#74b842" stroke-width="9"/><path d="M1069.7 240.7L1197.5 179.5" stroke="#93d45e" stroke-width="6.5"/><path d="M1069.4 240.2L1197.2 179" stroke="#b0e683" stroke-width="2.9"/><path d="M1075.5 253.5L1203.9 192.8" stroke="#74b842" stroke-width="9"/><path d="M1075.2 253L1203.6 192.3" stroke="#93d45e" stroke-width="6.5"/><path d="M1074.9 252.5L1203.3 191.8" stroke="#b0e683" stroke-width="2.9"/><path d="M1081 265.8L1210.1 205.5" stroke="#74b842" stroke-width="9"/><path d="M1080.7 265.3L1209.8 205" stroke="#93d45e" stroke-width="6.5"/><path d="M1080.4 264.8L1209.5 204.5" stroke="#b0e683" stroke-width="2.9"/><path d="M1086.6 278.1L1216.3 218.3" stroke="#74b842" stroke-width="9"/><path d="M1086.3 277.6L1216 217.8" stroke="#93d45e" stroke-width="6.5"/><path d="M1086 277.1L1215.7 217.3" stroke="#b0e683" stroke-width="2.9"/><path d="M1092.1 290.4L1222.4 231" stroke="#74b842" stroke-width="9"/><path d="M1091.8 289.9L1222.1 230.5" stroke="#93d45e" stroke-width="6.5"/><path d="M1091.5 289.4L1221.8 230" stroke="#b0e683" stroke-width="2.9"/><path d="M1097.6 302.8L1228.6 243.8" stroke="#74b842" stroke-width="9"/><path d="M1097.3 302.3L1228.3 243.3" stroke="#93d45e" stroke-width="6.5"/><path d="M1097 301.8L1228 242.8" stroke="#b0e683" stroke-width="2.9"/><path d="M1103.1 315.1L1234.7 256.5" stroke="#74b842" stroke-width="9"/><path d="M1102.8 314.6L1234.4 256" stroke="#93d45e" stroke-width="6.5"/><path d="M1102.5 314.1L1234.1 255.5" stroke="#b0e683" stroke-width="2.9"/><path d="M1108.7 327.4L1240.9 269.3" stroke="#74b842" stroke-width="9"/><path d="M1108.4 326.9L1240.6 268.8" stroke="#93d45e" stroke-width="6.5"/><path d="M1108.1 326.4L1240.3 268.3" stroke="#b0e683" stroke-width="2.9"/><path d="M1114.2 339.7L1247.1 282" stroke="#74b842" stroke-width="9"/><path d="M1113.9 339.2L1246.8 281.5" stroke="#93d45e" stroke-width="6.5"/><path d="M1113.6 338.7L1246.5 281" stroke="#b0e683" stroke-width="2.9"/><path d="M1119.7 352L1253.2 294.8" stroke="#74b842" stroke-width="9"/><path d="M1119.4 351.5L1252.9 294.3" stroke="#93d45e" stroke-width="6.5"/><path d="M1119.1 351L1252.6 293.8" stroke="#b0e683" stroke-width="2.9"/><path d="M1075.7 224.6L1136.2 358.6" stroke="#74b842" stroke-width="9"/><path d="M1075.4 224.1L1135.9 358.1" stroke="#93d45e" stroke-width="6.5"/><path d="M1075.1 223.6L1135.6 357.6" stroke="#b0e683" stroke-width="2.9"/><path d="M1087.4 218.9L1148.6 353.3" stroke="#74b842" stroke-width="9"/><path d="M1087.1 218.4L1148.3 352.8" stroke="#93d45e" stroke-width="6.5"/><path d="M1086.8 217.9L1148 352.3" stroke="#b0e683" stroke-width="2.9"/><path d="M1099.2 213.2L1160.9 348.1" stroke="#74b842" stroke-width="9"/><path d="M1098.9 212.7L1160.6 347.6" stroke="#93d45e" stroke-width="6.5"/><path d="M1098.6 212.2L1160.3 347.1" stroke="#b0e683" stroke-width="2.9"/><path d="M1110.9 207.6L1173.3 342.8" stroke="#74b842" stroke-width="9"/><path d="M1110.6 207.1L1173 342.3" stroke="#93d45e" stroke-width="6.5"/><path d="M1110.3 206.6L1172.7 341.8" stroke="#b0e683" stroke-width="2.9"/><path d="M1122.6 201.9L1185.7 337.6" stroke="#74b842" stroke-width="9"/><path d="M1122.3 201.4L1185.4 337.1" stroke="#93d45e" stroke-width="6.5"/><path d="M1122 200.9L1185.1 336.6" stroke="#b0e683" stroke-width="2.9"/><path d="M1134.4 196.2L1198 332.3" stroke="#74b842" stroke-width="9"/><path d="M1134.1 195.7L1197.7 331.8" stroke="#93d45e" stroke-width="6.5"/><path d="M1133.8 195.2L1197.4 331.3" stroke="#b0e683" stroke-width="2.9"/><path d="M1146.1 190.5L1210.4 327.1" stroke="#74b842" stroke-width="9"/><path d="M1145.8 190L1210.1 326.6" stroke="#93d45e" stroke-width="6.5"/><path d="M1145.5 189.5L1209.8 326.1" stroke="#b0e683" stroke-width="2.9"/><path d="M1157.8 184.9L1222.8 321.8" stroke="#74b842" stroke-width="9"/><path d="M1157.5 184.4L1222.5 321.3" stroke="#93d45e" stroke-width="6.5"/><path d="M1157.2 183.9L1222.2 320.8" stroke="#b0e683" stroke-width="2.9"/><path d="M1169.6 179.2L1235.1 316.6" stroke="#74b842" stroke-width="9"/><path d="M1169.3 178.7L1234.8 316.1" stroke="#93d45e" stroke-width="6.5"/><path d="M1169 178.2L1234.5 315.6" stroke="#b0e683" stroke-width="2.9"/><path d="M1181.3 173.5L1247.5 311.3" stroke="#74b842" stroke-width="9"/><path d="M1181 173L1247.2 310.8" stroke="#93d45e" stroke-width="6.5"/><path d="M1180.7 172.5L1246.9 310.3" stroke="#b0e683" stroke-width="2.9"/><path d="M1075.5 238.5L1086.2 233.4" stroke="#74b842" stroke-width="9"/><path d="M1075.2 238L1085.9 232.9" stroke="#93d45e" stroke-width="6.5"/><path d="M1074.9 237.5L1085.6 232.4" stroke="#b0e683" stroke-width="2.9"/><path d="M1099.1 227.3L1109.8 222.1" stroke="#74b842" stroke-width="9"/><path d="M1098.8 226.8L1109.5 221.6" stroke="#93d45e" stroke-width="6.5"/><path d="M1098.5 226.3L1109.2 221.1" stroke="#b0e683" stroke-width="2.9"/><path d="M1122.6 216L1133.4 210.9" stroke="#74b842" stroke-width="9"/><path d="M1122.3 215.5L1133.1 210.4" stroke="#93d45e" stroke-width="6.5"/><path d="M1122 215L1132.8 209.9" stroke="#b0e683" stroke-width="2.9"/><path d="M1146.2 204.7L1156.9 199.6" stroke="#74b842" stroke-width="9"/><path d="M1145.9 204.2L1156.6 199.1" stroke="#93d45e" stroke-width="6.5"/><path d="M1145.6 203.7L1156.3 198.6" stroke="#b0e683" stroke-width="2.9"/><path d="M1169.8 193.4L1180.5 188.3" stroke="#74b842" stroke-width="9"/><path d="M1169.5 192.9L1180.2 187.8" stroke="#93d45e" stroke-width="6.5"/><path d="M1169.2 192.4L1179.9 187.3" stroke="#b0e683" stroke-width="2.9"/><path d="M1092.9 245.3L1103.7 240.2" stroke="#74b842" stroke-width="9"/><path d="M1092.6 244.8L1103.4 239.7" stroke="#93d45e" stroke-width="6.5"/><path d="M1092.3 244.3L1103.1 239.2" stroke="#b0e683" stroke-width="2.9"/><path d="M1116.6 234.1L1127.4 229" stroke="#74b842" stroke-width="9"/><path d="M1116.3 233.6L1127.1 228.5" stroke="#93d45e" stroke-width="6.5"/><path d="M1116 233.1L1126.8 228" stroke="#b0e683" stroke-width="2.9"/><path d="M1140.3 222.9L1151 217.8" stroke="#74b842" stroke-width="9"/><path d="M1140 222.4L1150.7 217.3" stroke="#93d45e" stroke-width="6.5"/><path d="M1139.7 221.9L1150.4 216.8" stroke="#b0e683" stroke-width="2.9"/><path d="M1163.9 211.7L1174.7 206.6" stroke="#74b842" stroke-width="9"/><path d="M1163.6 211.2L1174.4 206.1" stroke="#93d45e" stroke-width="6.5"/><path d="M1163.3 210.7L1174.1 205.6" stroke="#b0e683" stroke-width="2.9"/><path d="M1187.6 200.5L1198.4 195.4" stroke="#74b842" stroke-width="9"/><path d="M1187.3 200L1198.1 194.9" stroke="#93d45e" stroke-width="6.5"/><path d="M1187 199.5L1197.8 194.4" stroke="#b0e683" stroke-width="2.9"/><path d="M1086.6 263.2L1097.4 258.1" stroke="#74b842" stroke-width="9"/><path d="M1086.3 262.7L1097.1 257.6" stroke="#93d45e" stroke-width="6.5"/><path d="M1086 262.2L1096.8 257.1" stroke="#b0e683" stroke-width="2.9"/><path d="M1110.4 252.1L1121.2 247" stroke="#74b842" stroke-width="9"/><path d="M1110.1 251.6L1120.9 246.5" stroke="#93d45e" stroke-width="6.5"/><path d="M1109.8 251.1L1120.6 246" stroke="#b0e683" stroke-width="2.9"/><path d="M1134.2 241L1145 235.9" stroke="#74b842" stroke-width="9"/><path d="M1133.9 240.5L1144.7 235.4" stroke="#93d45e" stroke-width="6.5"/><path d="M1133.6 240L1144.4 234.9" stroke="#b0e683" stroke-width="2.9"/><path d="M1158 229.9L1168.8 224.8" stroke="#74b842" stroke-width="9"/><path d="M1157.7 229.4L1168.5 224.3" stroke="#93d45e" stroke-width="6.5"/><path d="M1157.4 228.9L1168.2 223.8" stroke="#b0e683" stroke-width="2.9"/><path d="M1181.8 218.7L1192.6 213.7" stroke="#74b842" stroke-width="9"/><path d="M1181.5 218.2L1192.3 213.2" stroke="#93d45e" stroke-width="6.5"/><path d="M1181.2 217.7L1192 212.7" stroke="#b0e683" stroke-width="2.9"/><path d="M1104.1 270L1115 265" stroke="#74b842" stroke-width="9"/><path d="M1103.8 269.5L1114.7 264.5" stroke="#93d45e" stroke-width="6.5"/><path d="M1103.5 269L1114.4 264" stroke="#b0e683" stroke-width="2.9"/><path d="M1128 259L1138.9 254" stroke="#74b842" stroke-width="9"/><path d="M1127.7 258.5L1138.6 253.5" stroke="#93d45e" stroke-width="6.5"/><path d="M1127.4 258L1138.3 253" stroke="#b0e683" stroke-width="2.9"/><path d="M1151.9 248L1162.8 242.9" stroke="#74b842" stroke-width="9"/><path d="M1151.6 247.5L1162.5 242.4" stroke="#93d45e" stroke-width="6.5"/><path d="M1151.3 247L1162.2 241.9" stroke="#b0e683" stroke-width="2.9"/><path d="M1175.9 236.9L1186.8 231.9" stroke="#74b842" stroke-width="9"/><path d="M1175.6 236.4L1186.5 231.4" stroke="#93d45e" stroke-width="6.5"/><path d="M1175.3 235.9L1186.2 230.9" stroke="#b0e683" stroke-width="2.9"/><path d="M1199.8 225.9L1210.7 220.9" stroke="#74b842" stroke-width="9"/><path d="M1199.5 225.4L1210.4 220.4" stroke="#93d45e" stroke-width="6.5"/><path d="M1199.2 224.9L1210.1 219.9" stroke="#b0e683" stroke-width="2.9"/><path d="M1097.7 287.9L1108.6 282.9" stroke="#74b842" stroke-width="9"/><path d="M1097.4 287.4L1108.3 282.4" stroke="#93d45e" stroke-width="6.5"/><path d="M1097.1 286.9L1108 281.9" stroke="#b0e683" stroke-width="2.9"/><path d="M1121.7 276.9L1132.7 271.9" stroke="#74b842" stroke-width="9"/><path d="M1121.4 276.4L1132.4 271.4" stroke="#93d45e" stroke-width="6.5"/><path d="M1121.1 275.9L1132.1 270.9" stroke="#b0e683" stroke-width="2.9"/><path d="M1145.8 266L1156.7 261" stroke="#74b842" stroke-width="9"/><path d="M1145.5 265.5L1156.4 260.5" stroke="#93d45e" stroke-width="6.5"/><path d="M1145.2 265L1156.1 260" stroke="#b0e683" stroke-width="2.9"/><path d="M1169.8 255L1180.8 250" stroke="#74b842" stroke-width="9"/><path d="M1169.5 254.5L1180.5 249.5" stroke="#93d45e" stroke-width="6.5"/><path d="M1169.2 254L1180.2 249" stroke="#b0e683" stroke-width="2.9"/><path d="M1193.8 244.1L1204.8 239.1" stroke="#74b842" stroke-width="9"/><path d="M1193.5 243.6L1204.5 238.6" stroke="#93d45e" stroke-width="6.5"/><path d="M1193.2 243.1L1204.2 238.1" stroke="#b0e683" stroke-width="2.9"/><path d="M1115.3 294.8L1126.3 289.8" stroke="#74b842" stroke-width="9"/><path d="M1115 294.3L1126 289.3" stroke="#93d45e" stroke-width="6.5"/><path d="M1114.7 293.8L1125.7 288.8" stroke="#b0e683" stroke-width="2.9"/><path d="M1139.5 283.9L1150.5 278.9" stroke="#74b842" stroke-width="9"/><path d="M1139.2 283.4L1150.2 278.4" stroke="#93d45e" stroke-width="6.5"/><path d="M1138.9 282.9L1149.9 277.9" stroke="#b0e683" stroke-width="2.9"/><path d="M1163.6 273L1174.6 268.1" stroke="#74b842" stroke-width="9"/><path d="M1163.3 272.5L1174.3 267.6" stroke="#93d45e" stroke-width="6.5"/><path d="M1163 272L1174 267.1" stroke="#b0e683" stroke-width="2.9"/><path d="M1187.8 262.1L1198.8 257.2" stroke="#74b842" stroke-width="9"/><path d="M1187.5 261.6L1198.5 256.7" stroke="#93d45e" stroke-width="6.5"/><path d="M1187.2 261.1L1198.2 256.2" stroke="#b0e683" stroke-width="2.9"/><path d="M1211.9 251.3L1222.9 246.3" stroke="#74b842" stroke-width="9"/><path d="M1211.6 250.8L1222.6 245.8" stroke="#93d45e" stroke-width="6.5"/><path d="M1211.3 250.3L1222.3 245.3" stroke="#b0e683" stroke-width="2.9"/><path d="M1108.8 312.6L1119.8 307.6" stroke="#74b842" stroke-width="9"/><path d="M1108.5 312.1L1119.5 307.1" stroke="#93d45e" stroke-width="6.5"/><path d="M1108.2 311.6L1119.2 306.6" stroke="#b0e683" stroke-width="2.9"/><path d="M1133.1 301.8L1144.1 296.8" stroke="#74b842" stroke-width="9"/><path d="M1132.8 301.3L1143.8 296.3" stroke="#93d45e" stroke-width="6.5"/><path d="M1132.5 300.8L1143.5 295.8" stroke="#b0e683" stroke-width="2.9"/><path d="M1157.3 291L1168.4 286" stroke="#74b842" stroke-width="9"/><path d="M1157 290.5L1168.1 285.5" stroke="#93d45e" stroke-width="6.5"/><path d="M1156.7 290L1167.8 285" stroke="#b0e683" stroke-width="2.9"/><path d="M1181.6 280.2L1192.7 275.2" stroke="#74b842" stroke-width="9"/><path d="M1181.3 279.7L1192.4 274.7" stroke="#93d45e" stroke-width="6.5"/><path d="M1181 279.2L1192.1 274.2" stroke="#b0e683" stroke-width="2.9"/><path d="M1205.9 269.4L1216.9 264.4" stroke="#74b842" stroke-width="9"/><path d="M1205.6 268.9L1216.6 263.9" stroke="#93d45e" stroke-width="6.5"/><path d="M1205.3 268.4L1216.3 263.4" stroke="#b0e683" stroke-width="2.9"/><path d="M1126.5 319.5L1137.7 314.7" stroke="#74b842" stroke-width="9"/><path d="M1126.2 319L1137.4 314.2" stroke="#93d45e" stroke-width="6.5"/><path d="M1125.9 318.5L1137.1 313.7" stroke="#b0e683" stroke-width="2.9"/><path d="M1150.9 308.8L1162 303.9" stroke="#74b842" stroke-width="9"/><path d="M1150.6 308.3L1161.7 303.4" stroke="#93d45e" stroke-width="6.5"/><path d="M1150.3 307.8L1161.4 302.9" stroke="#b0e683" stroke-width="2.9"/><path d="M1175.3 298.1L1186.4 293.2" stroke="#74b842" stroke-width="9"/><path d="M1175 297.6L1186.1 292.7" stroke="#93d45e" stroke-width="6.5"/><path d="M1174.7 297.1L1185.8 292.2" stroke="#b0e683" stroke-width="2.9"/><path d="M1199.7 287.4L1210.8 282.5" stroke="#74b842" stroke-width="9"/><path d="M1199.4 286.9L1210.5 282" stroke="#93d45e" stroke-width="6.5"/><path d="M1199.1 286.4L1210.2 281.5" stroke="#b0e683" stroke-width="2.9"/><path d="M1224.1 276.6L1235.2 271.8" stroke="#74b842" stroke-width="9"/><path d="M1223.8 276.1L1234.9 271.3" stroke="#93d45e" stroke-width="6.5"/><path d="M1223.5 275.6L1234.6 270.8" stroke="#b0e683" stroke-width="2.9"/><path d="M1119.9 337.2L1131.1 332.4" stroke="#74b842" stroke-width="9"/><path d="M1119.6 336.7L1130.8 331.9" stroke="#93d45e" stroke-width="6.5"/><path d="M1119.3 336.2L1130.5 331.4" stroke="#b0e683" stroke-width="2.9"/><path d="M1144.4 326.6L1155.6 321.7" stroke="#74b842" stroke-width="9"/><path d="M1144.1 326.1L1155.3 321.2" stroke="#93d45e" stroke-width="6.5"/><path d="M1143.8 325.6L1155 320.7" stroke="#b0e683" stroke-width="2.9"/><path d="M1168.9 316L1180.1 311.1" stroke="#74b842" stroke-width="9"/><path d="M1168.6 315.5L1179.8 310.6" stroke="#93d45e" stroke-width="6.5"/><path d="M1168.3 315L1179.5 310.1" stroke="#b0e683" stroke-width="2.9"/><path d="M1193.4 305.3L1204.6 300.5" stroke="#74b842" stroke-width="9"/><path d="M1193.1 304.8L1204.3 300" stroke="#93d45e" stroke-width="6.5"/><path d="M1192.8 304.3L1204 299.5" stroke="#b0e683" stroke-width="2.9"/><path d="M1217.9 294.7L1229.1 289.8" stroke="#74b842" stroke-width="9"/><path d="M1217.6 294.2L1228.8 289.3" stroke="#93d45e" stroke-width="6.5"/><path d="M1217.3 293.7L1228.5 288.8" stroke="#b0e683" stroke-width="2.9"/><path d="M1137.8 344.3L1149 339.5" stroke="#74b842" stroke-width="9"/><path d="M1137.5 343.8L1148.7 339" stroke="#93d45e" stroke-width="6.5"/><path d="M1137.2 343.3L1148.4 338.5" stroke="#b0e683" stroke-width="2.9"/><path d="M1162.4 333.7L1173.6 328.9" stroke="#74b842" stroke-width="9"/><path d="M1162.1 333.2L1173.3 328.4" stroke="#93d45e" stroke-width="6.5"/><path d="M1161.8 332.7L1173 327.9" stroke="#b0e683" stroke-width="2.9"/><path d="M1187 323.2L1198.2 318.4" stroke="#74b842" stroke-width="9"/><path d="M1186.7 322.7L1197.9 317.9" stroke="#93d45e" stroke-width="6.5"/><path d="M1186.4 322.2L1197.6 317.4" stroke="#b0e683" stroke-width="2.9"/><path d="M1211.6 312.6L1222.9 307.8" stroke="#74b842" stroke-width="9"/><path d="M1211.3 312.1L1222.6 307.3" stroke="#93d45e" stroke-width="6.5"/><path d="M1211 311.6L1222.3 306.8" stroke="#b0e683" stroke-width="2.9"/><path d="M1236.3 302L1247.5 297.2" stroke="#74b842" stroke-width="9"/><path d="M1236 301.5L1247.2 296.7" stroke="#93d45e" stroke-width="6.5"/><path d="M1235.7 301L1246.9 296.2" stroke="#b0e683" stroke-width="2.9"/></g>
<path d="M204.6 250.4L339.4 250.4L339.4 239.5L360.2 260.6L339.4 281.6L339.4 270.5L204.6 270.5Z" fill="url(#gArrow)" stroke="#9fb3a4" stroke-width="1.2" stroke-linejoin="miter"/>
<path d="M561.2 254.3L697 254.3L697 243L718 265L697 287L697 275.7L561.2 275.7Z" fill="url(#gArrow)" stroke="#9fb3a4" stroke-width="1.2" stroke-linejoin="miter"/>
<path d="M909.3 262.4L1051.5 262.4L1051.5 251.4L1071.8 272.4L1051.5 293.5L1051.5 283.7L909.3 283.7Z" fill="url(#gArrow)" stroke="#9fb3a4" stroke-width="1.2" stroke-linejoin="miter"/>
<g stroke="#e03060" stroke-width="2.2" stroke-linecap="round"><path d="M94 244l1.2 1.6M105 254l1.2 1.4M84 276l1 1.6M110 236l0 0"/></g>
<g stroke="#7fd0c0" stroke-width="1" opacity="0.8"><path d="M86 252l8 -4M98 262l8 -4M78 262l6 6M110 240l6 -3"/></g>
<circle cx="99.5" cy="217.5" r="19.4" fill="url(#gFe)"/><text x="100.5" y="226.7" font-size="21.5" fill="#ffe818" text-anchor="middle">Fe<tspan font-size="14.6" dy="-7.7">3+</tspan></text>
<circle cx="114.6" cy="274.4" r="19.6" fill="url(#gFe)"/><text x="115.6" y="283.6" font-size="21.5" fill="#ffe818" text-anchor="middle">Fe<tspan font-size="14.6" dy="-7.7">3+</tspan></text>
<circle cx="55.7" cy="251" r="16.8" fill="url(#gCo)"/><text x="56.7" y="257.1" font-size="18" fill="#000" text-anchor="middle">Co<tspan font-size="12.2" dy="-6.5">2+</tspan></text>
<circle cx="160.6" cy="259.6" r="16.8" fill="url(#gCo)"/><text x="161.6" y="265.7" font-size="18" fill="#000" text-anchor="middle">Co<tspan font-size="12.2" dy="-6.5">2+</tspan></text>
<circle cx="100.6" cy="316" r="16.8" fill="url(#gCo)"/><text x="101.6" y="322.1" font-size="18" fill="#000" text-anchor="middle">Co<tspan font-size="12.2" dy="-6.5">2+</tspan></text>
<g fill="none" stroke="#000" stroke-width="2.5" stroke-linecap="round" stroke-dasharray="0.1 4.5"><path d="M120.3 163 L125.5 232"/><path d="M155.9 163 L135 232"/></g>
<path d="M457.1 194.4C472.5 182.6 487.8 207.1 503.2 195.3L501.4 222.4C486.5 234.2 472 209.7 457.1 221.5Z" fill="url(#gFlag)" stroke="#fff200" stroke-width="1.8" stroke-linejoin="round"/>
<path d="M384 244.1C393.7 226.4 417.7 245.5 427.4 227.8L434.6 252.2C426.1 269.8 402.5 250.9 394 268.5Z" fill="url(#gFlag)" stroke="#fff200" stroke-width="1.8" stroke-linejoin="round"/>
<path d="M439.1 281.1C436.5 262.3 466.1 266.5 463.5 247.7L485.1 262.1C487.7 281.8 457.3 279.5 459.9 299.2Z" fill="url(#gFlag)" stroke="#fff200" stroke-width="1.8" stroke-linejoin="round"/>
<path d="M490.5 261.2C507.1 251.3 519.1 277.5 535.7 267.6L532.1 295.5C515.8 305.1 505 278.7 488.7 288.3Z" fill="url(#gFlag)" stroke="#fff200" stroke-width="1.8" stroke-linejoin="round"/>
<path d="M420.1 274.8C417.6 294.3 447.9 291.4 445.4 310.9L422.8 326.2C426.7 307 396.4 307.5 400.3 288.3Z" fill="url(#gFlag)" stroke="#fff200" stroke-width="1.8" stroke-linejoin="round"/>
<g fill="none" stroke="#000" stroke-width="2" stroke-dasharray="4.5 2.2"><path d="M410.8 154.5 L441.9 266"/><path d="M455.5 154.5 L444.4 266"/></g>
<path d="M804.3 210.8C819.7 200.6 833.6 223.5 849 213.3L846.5 241.9C830.9 251.2 818.6 227.6 803 236.9Z" fill="#252a72" stroke="#f4f41c" stroke-width="1.8" stroke-linejoin="round"/>
<path d="M739.7 235.7C747.9 249.7 726.6 260.2 734.8 274.2L763.3 279.1C754.7 264.3 775.6 251.7 767 236.9Z" fill="#252a72" stroke="#f4f41c" stroke-width="1.8" stroke-linejoin="round"/>
<path d="M775.7 274.2C783.4 258.5 805.3 272.5 813 256.8L826.6 279.1C819.8 295.6 796.2 283.7 789.4 300.2Z" fill="#252a72" stroke="#f4f41c" stroke-width="1.8" stroke-linejoin="round"/>
<path d="M842.8 250.6C848.9 267.3 872.7 256.2 878.8 272.9L862.7 295.3C858.2 278.2 833.6 287.5 829.1 270.4Z" fill="#252a72" stroke="#f4f41c" stroke-width="1.8" stroke-linejoin="round"/>
<path d="M750.9 304C766.2 293.8 780.3 316.6 795.6 306.4L795.6 335C779.6 344.3 766.9 320.7 750.9 330Z" fill="#252a72" stroke="#f4f41c" stroke-width="1.8" stroke-linejoin="round"/>
<circle cx="816.5" cy="212" r="3.4" fill="#fff" stroke="#000" stroke-width="0.9"/><circle cx="832" cy="227" r="2.2" fill="#fff" stroke="#000" stroke-width="0.9"/><circle cx="745.7" cy="260" r="3.4" fill="#fff" stroke="#000" stroke-width="0.9"/><circle cx="752" cy="274.5" r="2" fill="#fff" stroke="#000" stroke-width="0.9"/><circle cx="786" cy="272.5" r="3.2" fill="#fff" stroke="#000" stroke-width="0.9"/><circle cx="807.3" cy="277.3" r="1.8" fill="#fff" stroke="#000" stroke-width="0.9"/><circle cx="847.7" cy="260.8" r="4" fill="#fff" stroke="#000" stroke-width="0.9"/><circle cx="862" cy="284" r="3" fill="#fff" stroke="#000" stroke-width="0.9"/><circle cx="763.8" cy="305.9" r="3.4" fill="#fff" stroke="#000" stroke-width="0.9"/><circle cx="779" cy="321.3" r="2.2" fill="#fff" stroke="#000" stroke-width="0.9"/>
<g fill="none" stroke="#000" stroke-width="2.5" stroke-linecap="round" stroke-dasharray="0.1 4.5"><path d="M760.8 168.5 L784.4 269"/><path d="M800.6 168.5 L789.4 267"/></g>
<g fill="none" stroke="#000" stroke-width="2" stroke-dasharray="4.5 2.5"><path d="M1094.7 167.5 L1132 297"/><path d="M1146.8 167.5 L1135.7 297"/></g>
<path d="M1157.5 218.1C1160.4 210.4 1162.6 213.1 1168.3 213.5C1174.1 214 1172.4 217.7 1179.2 219.9C1185.9 222 1187.8 222.4 1193.6 221.7C1199.4 220.9 1199 210.9 1200.8 217.2C1202.7 223.4 1204.3 237 1200.5 245.1C1196.6 253.3 1194 249.5 1186.4 247.9C1178.8 246.2 1179.7 240.3 1172 238.8C1164.2 237.4 1161.4 248 1157.5 242.4C1153.7 236.9 1154.6 225.8 1157.5 218.1Z" fill="#252a72" stroke="#f4f41c" stroke-width="1.5" stroke-linejoin="round"/>
<path d="M1096.1 238.8C1101.4 236.4 1108.2 235.8 1114.2 237.9C1120.2 240.1 1117.7 241.2 1118.7 246.9C1119.6 252.7 1119.5 254.8 1117.8 259.6C1116.1 264.4 1113.3 259.7 1112.4 265C1111.4 270.3 1119.5 274.9 1114.2 279.5C1108.9 284 1099.2 283.1 1092.5 282.2C1085.8 281.2 1088.7 281.9 1088.9 275.8C1089.1 269.8 1092 267.3 1093.4 259.6C1094.9 251.9 1093.6 252.5 1094.3 246.9C1095 241.4 1090.8 241.2 1096.1 238.8Z" fill="#252a72" stroke="#f4f41c" stroke-width="1.5" stroke-linejoin="round"/>
<path d="M1146.7 284.9C1149.6 276.7 1158.2 276.1 1168.3 272.2C1178.5 268.4 1177.9 268.5 1184.6 270.4C1191.3 272.3 1191 274.6 1193.6 279.5C1196.3 284.3 1201.3 283.4 1194.5 288.5C1187.8 293.5 1177.3 294.1 1168.3 298.4C1159.4 302.7 1164 303.5 1161.1 304.7C1158.2 305.9 1161.4 308.2 1157.5 302.9C1153.7 297.6 1143.8 293.1 1146.7 284.9Z" fill="#252a72" stroke="#f4f41c" stroke-width="1.5" stroke-linejoin="round"/>
<path d="M1213.5 272.2C1218.3 267.2 1218.2 268.1 1222.5 269.5C1226.8 271 1226.8 272.6 1229.7 277.6C1232.6 282.7 1228.1 284.6 1233.3 288.5C1238.6 292.3 1247.7 286.3 1249.6 292.1C1251.5 297.9 1244.9 304.6 1240.6 310.1C1236.2 315.7 1238.2 314.1 1233.3 312.9C1228.5 311.7 1226.4 310.2 1222.5 305.6C1218.7 301.1 1223.7 300.3 1218.9 295.7C1214.1 291.1 1205.9 294.7 1204.5 288.5C1203 282.2 1208.7 277.3 1213.5 272.2Z" fill="#252a72" stroke="#f4f41c" stroke-width="1.5" stroke-linejoin="round"/>
<path d="M1112.4 312C1115.5 304.7 1116.9 307 1123.2 307.4C1129.5 307.9 1127.7 311.6 1135.8 313.8C1144 315.9 1148.8 309.3 1153.9 315.6C1159 321.8 1156.7 330 1154.8 337.2C1152.9 344.5 1153.7 343.1 1146.7 342.7C1139.7 342.2 1138 337.6 1128.6 335.4C1119.2 333.3 1115.8 340.8 1111.5 334.5C1107.1 328.3 1109.2 319.2 1112.4 312Z" fill="#252a72" stroke="#f4f41c" stroke-width="1.5" stroke-linejoin="round"/>
<circle cx="1169.6" cy="217.7" r="3.1" fill="#fff" stroke="#000" stroke-width="0.9"/><circle cx="1185" cy="233.4" r="1.9" fill="#fff" stroke="#000" stroke-width="0.9"/><circle cx="1097.9" cy="263.7" r="3.1" fill="#fff" stroke="#000" stroke-width="0.9"/><circle cx="1178.3" cy="283.4" r="1.7" fill="#fff" stroke="#000" stroke-width="0.9"/><circle cx="1219.8" cy="278.9" r="3.6" fill="#fff" stroke="#000" stroke-width="0.9"/><circle cx="1233.9" cy="302.9" r="2.6" fill="#fff" stroke="#000" stroke-width="0.9"/><circle cx="1123.6" cy="311.6" r="3.1" fill="#fff" stroke="#000" stroke-width="0.9"/><circle cx="1138.9" cy="327.3" r="1.9" fill="#fff" stroke="#000" stroke-width="0.9"/>
<path d="M1117.8 257.8L1083.5 229.8L1078.1 237.9Z" fill="#1a0d05" stroke="#f5a21c" stroke-width="1.5" stroke-linejoin="round"/>
<path d="M1127.7 256.9L1097 286.7L1103.3 293Z" fill="#1a0d05" stroke="#f5a21c" stroke-width="1.5" stroke-linejoin="round"/>
<path d="M1152.1 227.1L1192.7 240.6L1188.2 248.8Z" fill="#1a0d05" stroke="#f5a21c" stroke-width="1.5" stroke-linejoin="round"/>
<path d="M1209 237L1189.1 272.2L1198.1 275.8Z" fill="#1a0d05" stroke="#f5a21c" stroke-width="1.5" stroke-linejoin="round"/>
<path d="M1186.4 276.7L1142.2 275.8L1143.1 284.9Z" fill="#1a0d05" stroke="#f5a21c" stroke-width="1.5" stroke-linejoin="round"/>
<path d="M1192.7 275.8L1222.5 284.9L1217.1 293Z" fill="#1a0d05" stroke="#f5a21c" stroke-width="1.5" stroke-linejoin="round"/>
<path d="M1198.7 291.5L1172 308L1177.4 316.5Z" fill="#1a0d05" stroke="#f5a21c" stroke-width="1.5" stroke-linejoin="round"/>
<path d="M1250.5 292.1L1204.5 303.8L1207.2 311.1Z" fill="#1a0d05" stroke="#f5a21c" stroke-width="1.5" stroke-linejoin="round"/>
<path d="M1098.8 298.4L1119.6 336.3L1128.6 330Z" fill="#1a0d05" stroke="#f5a21c" stroke-width="1.5" stroke-linejoin="round"/>
<path d="M1175.6 303.8L1142.2 326.4L1148.5 333.6Z" fill="#1a0d05" stroke="#f5a21c" stroke-width="1.5" stroke-linejoin="round"/>
<g id="cv">
<path d="M618.4 427V799.4" fill="none" stroke="#000" stroke-width="1.4"/>
<path d="M619.1 427.2H113.5V799.4H619.1" fill="none" stroke="#000" stroke-width="2.1"/>
<path d="M113.5 799.1h-8.6M113.5 768.1h-5.2M113.5 737h-8.6M113.5 706h-5.2M113.5 675h-8.6M113.5 644h-5.2M113.5 613h-8.6M113.5 581.9h-5.2M113.5 550.9h-8.6M113.5 519.9h-5.2M113.5 488.9h-8.6M113.5 457.9h-5.2M113.5 426.8h-8.6M151.4 799.4v8.6M190.3 799.4v5.2M229.2 799.4v8.6M268.1 799.4v5.2M307 799.4v8.6M345.9 799.4v5.2M384.8 799.4v8.6M423.7 799.4v5.2M462.6 799.4v8.6M501.5 799.4v5.2M540.4 799.4v8.6M579.3 799.4v5.2M618.2 799.4v8.6" fill="none" stroke="#000" stroke-width="2"/>
<text transform="translate(99.6 809.3) scale(1.0 1)" font-size="32" text-anchor="end" fill="#000">-40</text>
<text transform="translate(99.6 747.2) scale(1.0 1)" font-size="32" text-anchor="end" fill="#000">-20</text>
<text transform="translate(99.6 685.2) scale(1.0 1)" font-size="32" text-anchor="end" fill="#000">0</text>
<text transform="translate(99.6 623.2) scale(1.0 1)" font-size="32" text-anchor="end" fill="#000">20</text>
<text transform="translate(99.6 561.1) scale(1.0 1)" font-size="32" text-anchor="end" fill="#000">40</text>
<text transform="translate(99.6 499.1) scale(1.0 1)" font-size="32" text-anchor="end" fill="#000">60</text>
<text transform="translate(99.6 437) scale(1.0 1)" font-size="32" text-anchor="end" fill="#000">80</text>
<text transform="translate(151.4 836.6) scale(1.0 1)" font-size="32" text-anchor="middle" fill="#000">0.0</text>
<text transform="translate(229.2 836.6) scale(1.0 1)" font-size="32" text-anchor="middle" fill="#000">0.1</text>
<text transform="translate(307 836.6) scale(1.0 1)" font-size="32" text-anchor="middle" fill="#000">0.2</text>
<text transform="translate(384.8 836.6) scale(1.0 1)" font-size="32" text-anchor="middle" fill="#000">0.3</text>
<text transform="translate(462.6 836.6) scale(1.0 1)" font-size="32" text-anchor="middle" fill="#000">0.4</text>
<text transform="translate(540.4 836.6) scale(1.0 1)" font-size="32" text-anchor="middle" fill="#000">0.5</text>
<text transform="translate(618.2 836.6) scale(1.0 1)" font-size="32" text-anchor="middle" fill="#000">0.6</text>
<text transform="translate(173.2 871.6) scale(1.0 1)" font-size="35.5" text-anchor="start" fill="#000" word-spacing="3.2">Potential (V <tspan font-style="italic">vs.</tspan> Hg/HgO)</text>
<text transform="translate(50.7 803.6) scale(1.0 1) rotate(-90)" font-size="35.4" text-anchor="start" fill="#000" word-spacing="2.9">Current density (A g<tspan font-size="19" dy="-21.5">-1</tspan><tspan dy="21.5">)</tspan></text>
<path d="M151.4 694.2C151.9 692.8 153.3 689.1 154.5 685.9C155.7 682.7 157 677.8 158.4 675C159.8 672.2 161.3 670.1 163.1 668.8C164.9 667.5 166.1 667.1 169.3 666.9C172.5 666.7 175.1 667.2 182.5 667.6C189.9 667.9 199.4 668.5 213.6 668.8C227.9 669.1 246.1 669.3 268.1 669.4C290.1 669.5 320 669.6 345.9 669.4C371.8 669.3 408 668.7 423.7 668.5C439.4 668.3 432 668.4 440 668.1C448 667.8 461.1 667.4 471.6 666.9C482.1 666.3 494.8 665.9 503.2 665C511.6 664 516.9 663.4 522.1 661.2C527.4 659 530.6 657 534.8 651.7C539 646.4 543.7 638 547.4 629.6C551.1 621.1 553.7 611.7 556.9 601.1C560.1 590.6 563.5 577.4 566.4 566.4C569.3 555.3 572 542.9 574.3 534.8C576.5 526.6 579.7 517.4 580 517.4C580.3 517.4 578.1 526.1 576.2 534.8C574.2 543.5 571 558.5 568.3 569.5C565.5 580.6 562.9 590.6 559.7 601.1C556.6 611.7 552.9 623.3 549.3 632.7C545.7 642.2 542.2 651.4 538.3 658C534.3 664.6 530.4 668.6 525.6 672.2C520.9 675.8 514.6 677.9 509.8 679.5C505 681.1 503.2 681.4 496.9 681.7C490.5 682 481.1 681.4 471.6 681.1C462.1 680.7 450.6 679.9 440 679.5C429.4 679.1 423.8 679.1 408.1 678.9C392.5 678.6 367.3 678.3 345.9 678.1C324.5 677.9 300.5 677.3 279.8 677.5C259 677.7 236.3 678.4 221.4 679.3C206.5 680.3 198.7 681.7 190.3 683.1C181.9 684.4 176 686.1 170.9 687.4C165.7 688.8 162.4 690 159.2 691.1C155.9 692.3 152.7 693.7 151.4 694.2" fill="none" stroke="#000" stroke-width="3.5" stroke-linejoin="round" stroke-linecap="round"/>
<path d="M151.4 684.3C151.9 683.4 153 680.4 154.5 678.7C156.1 677.1 157.4 675.7 160.7 674.4C164.1 673.1 168.5 671.8 174.7 671C181 670.1 190.3 669.7 198.1 669.1C205.9 668.5 213.6 668.2 221.4 667.6C229.2 666.9 237 666.1 244.8 665.1C252.5 664 260.3 663 268.1 661.4C275.9 659.7 284.3 657.8 291.4 655.5C298.6 653.1 305.1 650.3 310.9 647.1C316.7 643.9 321.3 640.4 326.5 636.2C331.6 632.1 337.5 626.6 342 622.3C346.5 618 350.2 613.5 353.7 610.5C357.2 607.5 360.4 605.5 363 604.3C365.6 603.1 367.2 603.1 369.2 603.3C371.3 603.6 372.9 603.7 375.5 605.8C378.1 607.9 381.6 611.8 384.8 616.1C388 620.4 391.4 626.7 394.9 631.6C398.4 636.5 401.9 641.6 405.8 645.5C409.7 649.5 413.3 652.6 418.3 655.1C423.2 657.7 428 659.4 435.4 660.7C442.8 662 456.6 662.8 462.6 662.9C468.6 663 464.8 661.6 471.6 661.2C478.4 660.8 493.7 661 503.2 660.5C512.7 660.1 521.6 659.6 528.5 658.6C535.3 657.7 539.5 657 544.3 654.8C549 652.7 553.2 649.6 556.9 646C560.6 642.4 563.5 637.7 566.4 633.4C569.3 629 572 624.1 574.3 620.1C576.5 616 579.1 609 580 609C580.8 609 580.2 615.6 579.3 620.1C578.5 624.6 577 630.1 574.9 635.9C572.9 641.7 570.4 649.1 567 654.8C563.6 660.6 559.1 666.3 554.4 670.6C549.6 675 544.4 678.2 538.6 680.8C532.8 683.3 525.5 684.9 519.6 685.8C513.7 686.8 511.2 686.7 503.2 686.4C495.2 686.2 479.7 684.6 471.6 684.2C463.5 683.8 461.5 684.1 454.8 684C448.1 683.9 439.5 683.7 431.5 683.7C423.4 683.7 414.4 683.4 406.6 684C398.8 684.6 390.8 686 384.8 687.1C378.8 688.2 376 689 370.8 690.8C365.6 692.6 358.5 695.6 353.7 698C348.9 700.3 346 702.1 342 704.8C338.1 707.4 333.9 710.3 330 713.8C326.1 717.2 321.9 721.9 318.7 725.6C315.4 729.2 313.1 733.1 310.5 735.5C307.9 737.9 305.5 739.2 303.1 740.1C300.7 741.1 298.8 741.8 296.1 741.1C293.4 740.3 290.1 738.8 287.1 735.5C284.1 732.2 280.8 725.7 278.1 721.2C275.3 716.7 273.1 712 270.8 708.5C268.6 705 266.9 703 264.5 700.4C262.1 697.9 259.6 695 256.4 693C253.3 691 249.8 689.9 245.5 688.6C241.3 687.4 236.9 686.2 231.1 685.2C225.4 684.3 219.2 683.4 211.3 682.8C203.5 682.1 192.2 681.7 184.1 681.5C175.9 681.3 167.5 681.4 162.5 681.5C157.6 681.7 156.4 682 154.5 682.4C152.7 682.9 151.9 684 151.4 684.3" fill="none" stroke="#f20d0d" stroke-width="3.5" stroke-linejoin="round" stroke-linecap="round"/>
<path d="M151.4 684.9C151.9 683.8 153 680.2 154.5 678.1C156.1 676 157.4 673.8 160.7 672.5C164.1 671.3 165.9 671 174.7 670.7C183.6 670.3 199.4 670.8 213.6 670.7C227.9 670.6 246.1 670.3 260.3 670C274.6 669.7 288.8 669.5 299.2 668.8C309.6 668.1 315.4 667.5 322.6 665.7C329.7 663.9 336.2 662.1 342 657.9C347.8 653.8 353 647.9 357.6 640.9C362.1 633.9 365.6 624.6 369.2 616.1C372.9 607.5 376.4 596.7 379.4 589.7C382.3 582.7 384.9 577.3 387.1 574.2C389.3 571 390.6 570.5 392.6 570.8C394.5 571 396.5 572.3 398.8 575.7C401.1 579.1 403.7 585 406.6 591.2C409.4 597.5 412.4 605.7 415.9 613C419.4 620.2 423.7 628.8 427.6 634.7C431.5 640.6 434.7 644.8 439.3 648.3C443.8 651.8 448.3 654 454.8 655.8C461.3 657.5 473.8 658.4 478.2 658.9C482.5 659.3 476.9 658.8 481.1 658.6C485.2 658.5 496.9 658.7 503.2 658C509.5 657.3 514.2 656.3 519 654.2C523.7 652.1 527.9 649.5 531.6 645.4C535.3 641.3 537.9 636.4 541.1 629.6C544.3 622.7 547.4 614.8 550.6 604.3C553.7 593.8 556.9 580.6 560.1 566.4C563.2 552.2 566.2 536.8 569.5 519C572.9 501.2 579.7 459.1 580 459.6C580.3 460.1 574.3 504.3 571.4 522.1C568.6 539.9 565.8 552.7 562.9 566.4C560 580.1 556.9 593.2 554.1 604.3C551.3 615.4 549 623.8 546.2 632.7C543.3 641.7 540.4 651.2 537 658C533.6 664.9 529.9 669.8 525.9 673.8C522 677.9 518.1 680.3 513.3 682.3C508.5 684.3 503.8 685.3 496.9 685.8C489.9 686.3 478.6 685.2 471.6 685.2C464.6 685.2 461.5 685.6 454.8 685.9C448.1 686.1 439.5 686.3 431.5 686.8C423.4 687.2 414.4 687.6 406.6 688.5C398.8 689.4 391 690.9 384.8 692.4C378.6 693.8 375.1 695.2 369.2 697.3C363.4 699.5 355.6 702.4 349.8 705.4C344 708.4 337.5 713 334.2 715.3C330.9 717.7 332.8 715.7 330 719.4C327.3 723 321.3 731.7 317.7 737.4C314.2 743 311 749.8 308.7 753.5C306.4 757.2 305.4 758.1 303.9 759.4C302.4 760.7 301 761.3 299.7 761.2C298.4 761.1 297.3 760.3 296.1 758.8C294.9 757.2 294 755.8 292.5 751.9C290.9 748.1 288.7 741.2 287.1 735.5C285.4 729.8 284.1 722.3 282.6 717.5C281.1 712.7 279.7 709.9 278.1 706.6C276.4 703.3 275.1 700.2 272.6 697.6C270.2 695.1 266.8 693.1 263.4 691.4C260.1 689.8 256.7 688.8 252.5 687.7C248.4 686.6 243.7 685.7 238.4 684.9C233 684.2 226.3 683.6 220.3 683.2C214.3 682.9 209.8 682.9 202.3 682.8C194.8 682.6 182.1 682.4 175.2 682.4C168.3 682.5 164.7 682.5 160.7 683.1C156.8 683.6 153 685.1 151.4 685.5" fill="none" stroke="#0a0af0" stroke-width="3.5" stroke-linejoin="round" stroke-linecap="round"/>
<path d="M121 449H209.3" stroke="#000" stroke-width="3.4" fill="none"/>
<path d="M121 496H209.3" stroke="#f20d0d" stroke-width="3.4" fill="none"/>
<path d="M121 543.5H209.3" stroke="#0a0af0" stroke-width="3.4" fill="none"/>
<text transform="translate(218.6 461.6) scale(1.0 1)" font-size="31.8" text-anchor="start" fill="#000">FeCoP</text>
<text transform="translate(218.6 508.7) scale(1.0 1)" font-size="31.8" text-anchor="start" fill="#000">Ni-CoCH</text>
<text transform="translate(218.6 556) scale(1.0 1)" font-size="31.8" text-anchor="start" fill="#000">FeCoP@Ni-CoCH</text>
<text transform="translate(381.4 756.8) scale(1.0 1)" font-size="34.2" text-anchor="start" fill="#000">5 mV s<tspan font-size="19" dy="-18.4">-1</tspan></text>
</g>
<g id="ragone">
<path d="M816.1 434V800.8M839.7 434V800.8M856.5 434V800.8M869.5 434V800.8M880.1 434V800.8M889 434V800.8M896.8 434V800.8M903.7 434V800.8M950.1 434V800.8M973.7 434V800.8M990.5 434V800.8M1003.5 434V800.8M1014.1 434V800.8M1023 434V800.8M1030.8 434V800.8M1037.7 434V800.8M1084.1 434V800.8M1107.7 434V800.8M1124.5 434V800.8M1137.5 434V800.8M1148.1 434V800.8M1157 434V800.8M1164.8 434V800.8M1171.7 434V800.8M1218.1 434V800.8M1241.7 434V800.8M1258.5 434V800.8M776.1 753.3H1271.8M776.1 725.9H1271.8M776.1 706.4H1271.8M776.1 691.3H1271.8M776.1 679H1271.8M776.1 668.5H1271.8M776.1 659.5H1271.8M776.1 651.5H1271.8M776.1 597.5H1271.8M776.1 570.1H1271.8M776.1 550.6H1271.8M776.1 535.5H1271.8M776.1 523.2H1271.8M776.1 512.7H1271.8M776.1 503.7H1271.8M776.1 495.7H1271.8M776.1 441.7H1271.8" fill="none" stroke="#d2d2d2" stroke-width="1" stroke-dasharray="3 1.2"/>
<path d="M909.8 434V800.8M1043.8 434V800.8M1177.8 434V800.8M776.1 644.4H1271.8M776.1 488.6H1271.8" fill="none" stroke="#8a8a8a" stroke-width="1.1" stroke-dasharray="2.2 1.8"/>
<path d="M1271.8 434V800.8" fill="none" stroke="#000" stroke-width="1.5"/>
<path d="M1272.5 434H776.1V800.8H1272.5" fill="none" stroke="#000" stroke-width="2.1"/>
<path d="M775.8 800.8v7.7M816.1 800.8v3.9M839.7 800.8v3.9M856.5 800.8v3.9M869.5 800.8v3.9M880.1 800.8v3.9M889 800.8v3.9M896.8 800.8v3.9M903.7 800.8v3.9M909.8 800.8v7.7M950.1 800.8v3.9M973.7 800.8v3.9M990.5 800.8v3.9M1003.5 800.8v3.9M1014.1 800.8v3.9M1023 800.8v3.9M1030.8 800.8v3.9M1037.7 800.8v3.9M1043.8 800.8v7.7M1084.1 800.8v3.9M1107.7 800.8v3.9M1124.5 800.8v3.9M1137.5 800.8v3.9M1148.1 800.8v3.9M1157 800.8v3.9M1164.8 800.8v3.9M1171.7 800.8v3.9M1177.8 800.8v7.7M1218.1 800.8v3.9M1241.7 800.8v3.9M1258.5 800.8v3.9M1271.5 800.8v3.9M776.1 800.2h-7.9M776.1 753.3h-4.1M776.1 725.9h-4.1M776.1 706.4h-4.1M776.1 691.3h-4.1M776.1 679h-4.1M776.1 668.5h-4.1M776.1 659.5h-4.1M776.1 651.5h-4.1M776.1 644.4h-7.9M776.1 597.5h-4.1M776.1 570.1h-4.1M776.1 550.6h-4.1M776.1 535.5h-4.1M776.1 523.2h-4.1M776.1 512.7h-4.1M776.1 503.7h-4.1M776.1 495.7h-4.1M776.1 488.6h-7.9M776.1 441.7h-4.1" fill="none" stroke="#000" stroke-width="2"/>
<text transform="translate(763.4 810.1) scale(1.0 1)" font-size="32" text-anchor="end" fill="#000">1</text>
<text transform="translate(763.4 654.3) scale(1.0 1)" font-size="32" text-anchor="end" fill="#000">10</text>
<text transform="translate(763.4 498.5) scale(1.0 1)" font-size="32" text-anchor="end" fill="#000">100</text>
<text transform="translate(755.6 836.6) scale(1.0 1)" font-size="32" text-anchor="start" fill="#000">10<tspan font-size="17.5" dy="-17">1</tspan></text>
<text transform="translate(889.6 836.6) scale(1.0 1)" font-size="32" text-anchor="start" fill="#000">10<tspan font-size="17.5" dy="-17">2</tspan></text>
<text transform="translate(1023.6 836.6) scale(1.0 1)" font-size="32" text-anchor="start" fill="#000">10<tspan font-size="17.5" dy="-17">3</tspan></text>
<text transform="translate(1157.6 836.6) scale(1.0 1)" font-size="32" text-anchor="start" fill="#000">10<tspan font-size="17.5" dy="-17">4</tspan></text>
<text transform="translate(852.2 871.5) scale(1.0 1)" font-size="35" text-anchor="start" fill="#000" word-spacing="2.9">Power density (W kg<tspan font-size="19.5" dy="-18">-1</tspan><tspan dy="18">)</tspan></text>
<text transform="translate(709.8 803.8) scale(1.0 1) rotate(-90)" font-size="34.4" text-anchor="start" fill="#000" word-spacing="3.1">Energy density (Wh kg<tspan font-size="19" dy="-21">-1</tspan><tspan dy="21">)</tspan></text>
<path d="M962.2 528.3L953.7 533.2L945.2 528.3L945.2 518.5L953.7 513.6L962.2 518.5Z" fill="#800080"/>
<path d="M1010.3 512.5L1021.5 495.6L999 495.6Z" fill="#ff00ff"/>
<path d="M1031.8 517.5L1014.9 506.8L1014.9 528.2Z" fill="#9030f0"/>
<circle cx="1031.2" cy="528.5" r="8.7" fill="#ff1493"/>
<path d="M987 548.7L998 566.7L976 566.7Z" fill="#0000ff"/>
<rect x="1028.5" y="548.1" width="15.8" height="15.8" fill="#000"/>
<path d="M1197.4 549L1208.7 560.3L1197.4 571.6L1186.1 560.3Z" fill="#008000"/>
<path d="M1216.8 589.3L1235.3 578.8L1235.3 599.8Z" fill="#000080"/>
<path d="M990.4 511.1L1030.7 512.5L1070.3 516.7L1093.5 520.9L1122 526.5L1141 530.7L1160 534.9" fill="none" stroke="#ff0d0d" stroke-width="3.6"/>
<path d="M990.4 499.1L993.5 507.9L1002.8 508.1L995.3 513.7L998 522.6L990.4 517.3L982.8 522.6L985.5 513.7L978 508.1L987.3 507.9Z" fill="#ff0d0d"/>
<path d="M1030.7 500.5L1033.8 509.3L1043.1 509.5L1035.6 515.1L1038.3 524L1030.7 518.7L1023.1 524L1025.8 515.1L1018.3 509.5L1027.6 509.3Z" fill="#ff0d0d"/>
<path d="M1070.3 504.7L1073.4 513.5L1082.7 513.7L1075.2 519.3L1077.9 528.2L1070.3 522.9L1062.7 528.2L1065.4 519.3L1057.9 513.7L1067.2 513.5Z" fill="#ff0d0d"/>
<path d="M1093.5 508.9L1096.6 517.7L1105.9 517.9L1098.4 523.5L1101.1 532.4L1093.5 527.1L1085.9 532.4L1088.6 523.5L1081.1 517.9L1090.4 517.7Z" fill="#ff0d0d"/>
<path d="M1122 514.5L1125.1 523.3L1134.4 523.5L1126.9 529.1L1129.6 538L1122 532.7L1114.4 538L1117.1 529.1L1109.6 523.5L1118.9 523.3Z" fill="#ff0d0d"/>
<path d="M1141 518.7L1144.1 527.5L1153.4 527.7L1145.9 533.3L1148.6 542.2L1141 536.9L1133.4 542.2L1136.1 533.3L1128.6 527.7L1137.9 527.5Z" fill="#ff0d0d"/>
<path d="M1160 522.9L1163.1 531.7L1172.4 531.9L1164.9 537.5L1167.6 546.4L1160 541.1L1152.4 546.4L1155.1 537.5L1147.6 531.9L1156.9 531.7Z" fill="#ff0d0d"/>
<path d="M789.5 556.3H834.5" stroke="#ff0d0d" stroke-width="3.6" stroke-linecap="round" fill="none"/>
<path d="M811.6 544.3L814.7 553.1L824 553.3L816.5 558.9L819.2 567.8L811.6 562.5L804 567.8L806.7 558.9L799.2 553.3L808.5 553.1Z" fill="#ff0d0d"/>
<text transform="translate(839.6 563) scale(1.0 1)" font-size="20.8" text-anchor="start" fill="#000">This work</text>
<path d="M789.5 582H834.5" stroke="#000" stroke-width="3.6" stroke-linecap="round" fill="none"/>
<rect x="803.7" y="574.1" width="15.8" height="15.8" fill="#000"/>
<text transform="translate(839.6 588.2) scale(1.0 1)" font-size="19.4" text-anchor="start" fill="#000">CoP@NiCoP//Fe<tspan font-size="11.2" dy="7">2</tspan><tspan dy="-7">O</tspan><tspan font-size="11.2" dy="7">3</tspan></text>
<path d="M789.5 612.4H834.5" stroke="#ff1493" stroke-width="3.6" stroke-linecap="round" fill="none"/>
<circle cx="811.6" cy="612.4" r="8.7" fill="#ff1493"/>
<text transform="translate(839.6 618.6) scale(1.0 1)" font-size="19.4" text-anchor="start" fill="#000">NiCoP@MoSe<tspan font-size="11.2" dy="7">2</tspan><tspan dy="-7">//AC</tspan></text>
<path d="M789.5 643.5H834.5" stroke="#0000ff" stroke-width="3.6" stroke-linecap="round" fill="none"/>
<path d="M811.6 632.6L822.6 650.6L800.6 650.6Z" fill="#0000ff"/>
<text transform="translate(839.6 649.7) scale(1.0 1)" font-size="19.4" text-anchor="start" fill="#000">Cu(OH)<tspan font-size="11.2" dy="7">2</tspan><tspan dy="-7">@ZnNi-Co</tspan><tspan font-size="11.2" dy="7">2</tspan><tspan dy="-7">(CO</tspan><tspan font-size="11.2" dy="7">3</tspan><tspan dy="-7">)(OH)</tspan><tspan font-size="11.2" dy="7">2</tspan><tspan dy="-7">//AC</tspan></text>
<path d="M789.5 674.7H834.5" stroke="#ff00ff" stroke-width="3.6" stroke-linecap="round" fill="none"/>
<path d="M811.6 685.6L822.6 667.6L800.6 667.6Z" fill="#ff00ff"/>
<text transform="translate(839.6 680.9) scale(1.0 1)" font-size="19.4" text-anchor="start" fill="#000">Ni-Mo-S//Fe-Ni-S</text>
<path d="M789.5 698.3H834.5" stroke="#008000" stroke-width="3.6" stroke-linecap="round" fill="none"/>
<path d="M811.6 687L822.9 698.3L811.6 709.6L800.3 698.3Z" fill="#008000"/>
<text transform="translate(839.6 704.5) scale(1.0 1)" font-size="19.4" text-anchor="start" fill="#000">CCCH@NiCo-LDH@Au-CuO/Cu//V/CFs</text>
<path d="M789.5 723.3H834.5" stroke="#000080" stroke-width="3.6" stroke-linecap="round" fill="none"/>
<path d="M800.4 723.3L818.9 712.8L818.9 733.8Z" fill="#000080"/>
<text transform="translate(839.6 729.5) scale(1.0 1)" font-size="19.4" text-anchor="start" fill="#000">Co(OH)(CO<tspan font-size="11.2" dy="7">3</tspan><tspan dy="-7">)</tspan><tspan font-size="11.2" dy="7">0.5</tspan><tspan dy="-7">/Ni</tspan><tspan font-size="11.2" dy="7">2</tspan><tspan dy="-7">(CO</tspan><tspan font-size="11.2" dy="7">3</tspan><tspan dy="-7">)(OH)</tspan><tspan font-size="11.2" dy="7">2</tspan><tspan dy="-7">//AC</tspan></text>
<path d="M789.5 753.9H834.5" stroke="#9030f0" stroke-width="3.6" stroke-linecap="round" fill="none"/>
<path d="M822.8 753.9L804.3 743.4L804.3 764.4Z" fill="#9030f0"/>
<text transform="translate(839.6 760.1) scale(1.0 1)" font-size="19.4" text-anchor="start" fill="#000">NiCo<tspan font-size="11.2" dy="7">2</tspan><tspan dy="-7">-LDH@MXene/rGO//Mxene/rGO</tspan></text>
<path d="M789.5 784.4H834.5" stroke="#800080" stroke-width="3.6" stroke-linecap="round" fill="none"/>
<path d="M820.1 789.3L811.6 794.2L803.1 789.3L803.1 779.5L811.6 774.6L820.1 779.5Z" fill="#800080"/>
<text transform="translate(839.6 790.6) scale(1.0 1)" font-size="19.4" text-anchor="start" fill="#000">NiCoMn-O@NiMoO<tspan font-size="11.2" dy="7">4</tspan><tspan dy="-7">@C//AC</tspan></text>
</g>
</svg>
</body></html>
